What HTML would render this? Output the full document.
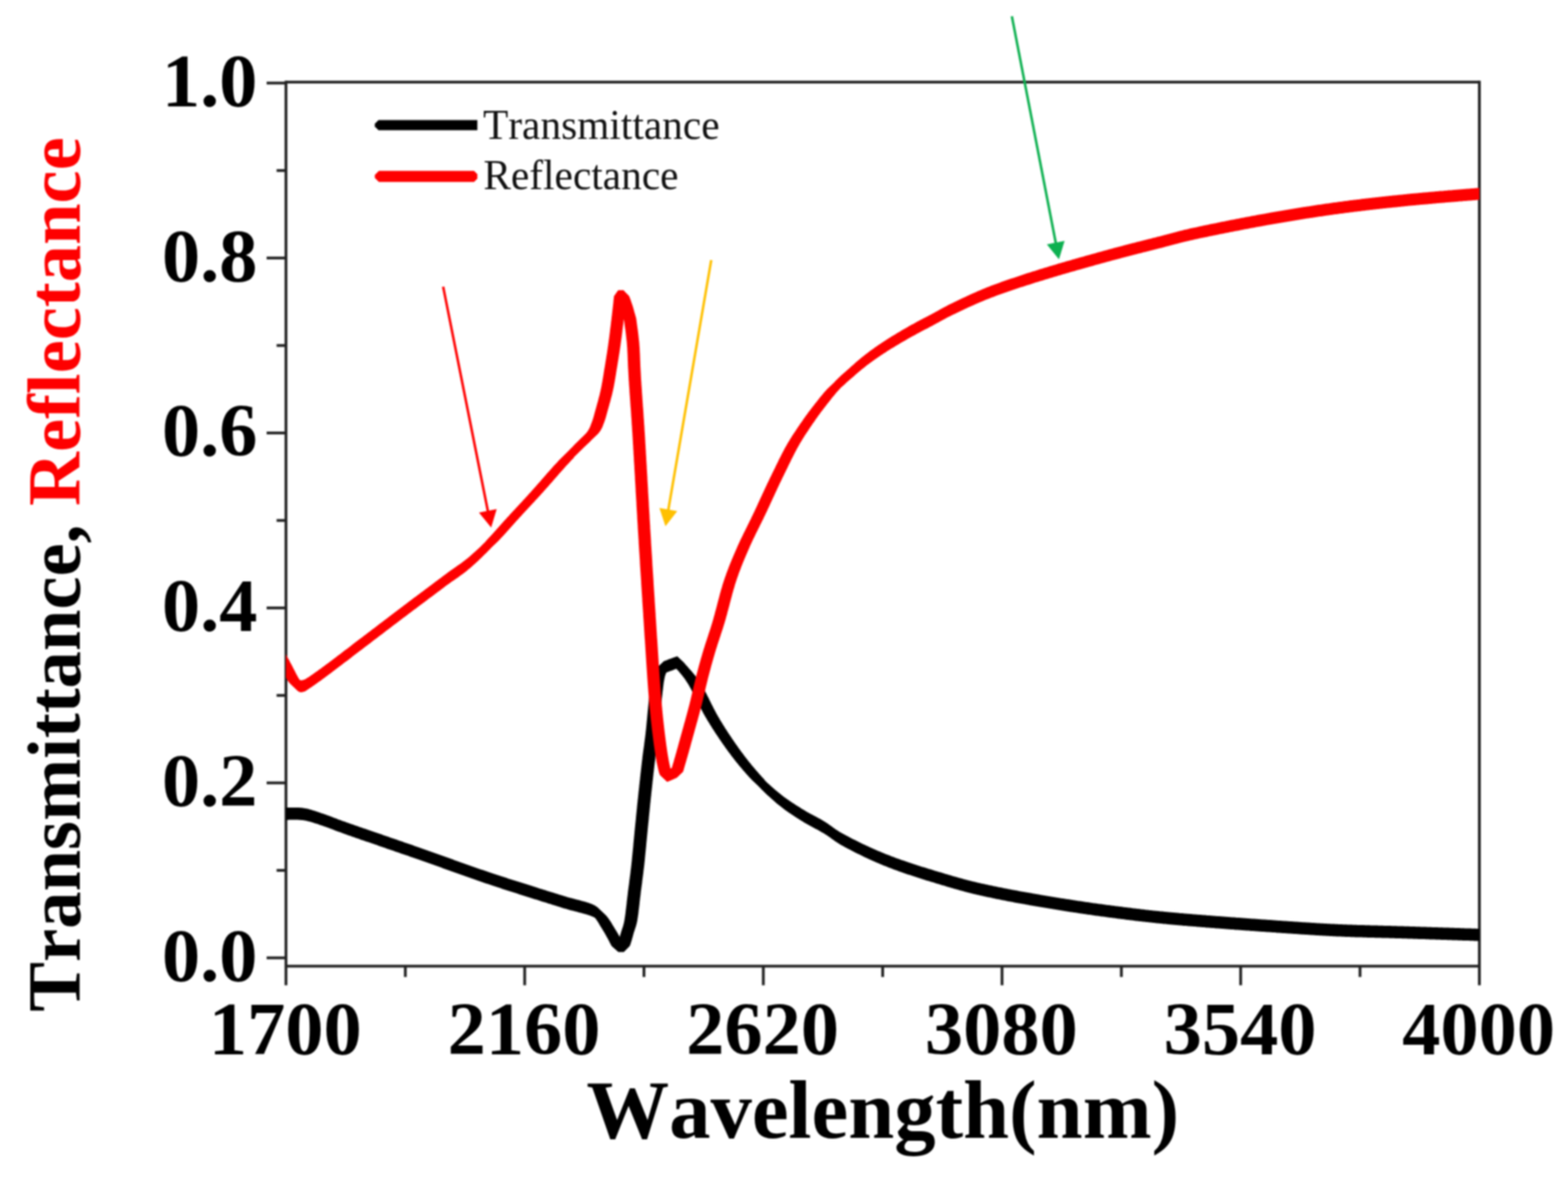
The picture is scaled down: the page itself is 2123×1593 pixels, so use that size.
<!DOCTYPE html>
<html lang="en">
<head>
<meta charset="utf-8">
<title>Transmittance and Reflectance vs Wavelength</title>
<style>
html,body{margin:0;padding:0;background:#fff;}
body{width:2123px;height:1593px;overflow:hidden;}
svg{display:block;filter:blur(0.9px);}
text{font-family:"Liberation Serif","DejaVu Serif",serif;font-kerning:none;}
.b{font-weight:700;}
</style>
</head>
<body>
<svg xmlns="http://www.w3.org/2000/svg" width="2123" height="1593" viewBox="0 0 2123 1593">
<rect width="2123" height="1593" fill="#fff"/>
<defs><clipPath id="plot"><rect x="387.2" y="0" width="1615.8" height="1593"/></clipPath></defs>
<g stroke="#222222" stroke-width="3.8" fill="none" stroke-linecap="butt">
<line x1="387.2" y1="109.2" x2="387.2" y2="1333.5"/>
<line x1="2003.0" y1="109.2" x2="2003.0" y2="1333.5"/>
<line x1="387.2" y1="111.1" x2="2003.0" y2="111.1"/>
<line x1="387.2" y1="1307.7" x2="2003.0" y2="1307.7"/>
<line x1="361.0" y1="1296.4" x2="387.2" y2="1296.4"/>
<line x1="374.5" y1="1178.0" x2="387.2" y2="1178.0"/>
<line x1="361.0" y1="1059.6" x2="387.2" y2="1059.6"/>
<line x1="374.5" y1="941.2" x2="387.2" y2="941.2"/>
<line x1="361.0" y1="822.8" x2="387.2" y2="822.8"/>
<line x1="374.5" y1="704.4" x2="387.2" y2="704.4"/>
<line x1="361.0" y1="586.0" x2="387.2" y2="586.0"/>
<line x1="374.5" y1="467.6" x2="387.2" y2="467.6"/>
<line x1="361.0" y1="349.2" x2="387.2" y2="349.2"/>
<line x1="374.5" y1="230.8" x2="387.2" y2="230.8"/>
<line x1="361.0" y1="112.4" x2="387.2" y2="112.4"/>
<line x1="548.8" y1="1307.7" x2="548.8" y2="1322.3"/>
<line x1="710.4" y1="1307.7" x2="710.4" y2="1333.5"/>
<line x1="871.9" y1="1307.7" x2="871.9" y2="1322.3"/>
<line x1="1033.5" y1="1307.7" x2="1033.5" y2="1333.5"/>
<line x1="1195.1" y1="1307.7" x2="1195.1" y2="1322.3"/>
<line x1="1356.7" y1="1307.7" x2="1356.7" y2="1333.5"/>
<line x1="1518.3" y1="1307.7" x2="1518.3" y2="1322.3"/>
<line x1="1679.8" y1="1307.7" x2="1679.8" y2="1333.5"/>
<line x1="1841.4" y1="1307.7" x2="1841.4" y2="1322.3"/>
</g>
<g clip-path="url(#plot)" stroke="none" fill-rule="nonzero">
<path fill="#000" d="M810.6 1229.4L819.3 1237.7L810.6 1246.0L801.8 1237.7ZM899.0 894.7L907.8 903.0L899.0 911.3L890.2 903.0ZM917.0 888.2L925.8 896.5L917.0 904.8L908.2 896.5ZM1026.6 1047.2L1035.4 1055.5L1026.6 1063.8L1017.9 1055.5ZM2015.2 1257.4L2024.0 1265.7L2015.2 1274.0L2006.5 1265.7ZM2015.2 1257.3L2024.0 1265.6L2015.2 1273.9L2006.5 1265.6ZM380.0 1093.1L380.9 1093.1L382.0 1093.1L383.4 1093.1L385.2 1093.1L387.5 1093.1L388.7 1093.1L390.1 1093.1L391.7 1093.0L393.3 1093.0L395.0 1093.0L396.8 1093.0L398.5 1093.0L400.3 1093.0L402.0 1093.0L403.5 1093.0L405.0 1093.1L406.8 1093.2L408.4 1093.3L409.8 1093.5L411.2 1093.7L412.7 1093.9L414.2 1094.2L416.0 1094.6L418.0 1095.1L419.2 1095.4L420.4 1095.7L421.6 1096.1L422.9 1096.5L424.2 1096.9L425.6 1097.3L427.0 1097.8L428.4 1098.2L429.9 1098.7L431.4 1099.2L433.0 1099.8L434.7 1100.4L436.4 1100.9L438.2 1101.6L440.0 1102.2L441.1 1102.6L442.2 1103.0L443.3 1103.4L444.3 1103.7L445.3 1104.1L446.2 1104.5L447.2 1104.8L448.2 1105.2L449.2 1105.6L450.3 1106.0L451.4 1106.4L452.5 1106.9L453.7 1107.3L455.0 1107.8L456.3 1108.3L457.8 1108.9L459.3 1109.4L461.0 1110.0L462.8 1110.7L464.7 1111.4L466.8 1112.1L469.0 1112.9L471.4 1113.8L474.0 1114.7L475.0 1115.0L476.0 1115.4L477.0 1115.8L478.1 1116.1L479.2 1116.5L480.3 1116.9L481.4 1117.3L482.6 1117.7L483.8 1118.1L485.0 1118.5L486.2 1118.9L487.4 1119.4L488.7 1119.8L490.0 1120.3L491.3 1120.7L492.6 1121.2L493.9 1121.6L495.3 1122.1L496.7 1122.6L498.0 1123.0L499.4 1123.5L500.9 1124.0L502.3 1124.5L503.7 1125.0L505.2 1125.5L506.6 1126.0L508.1 1126.5L509.6 1127.0L511.1 1127.5L512.6 1128.1L514.1 1128.6L515.7 1129.1L517.2 1129.6L518.7 1130.2L520.3 1130.7L521.8 1131.2L523.4 1131.8L524.9 1132.3L526.5 1132.8L528.1 1133.4L529.6 1133.9L531.2 1134.5L532.8 1135.0L534.4 1135.6L535.9 1136.1L537.5 1136.6L539.1 1137.2L540.7 1137.7L542.2 1138.3L543.8 1138.8L545.4 1139.3L546.9 1139.9L548.5 1140.4L550.0 1141.0L551.6 1141.5L553.1 1142.0L554.6 1142.6L556.2 1143.1L557.7 1143.6L559.2 1144.1L560.7 1144.7L562.2 1145.2L563.6 1145.7L565.1 1146.2L566.6 1146.7L568.0 1147.2L569.4 1147.7L570.8 1148.2L572.2 1148.7L573.6 1149.2L575.1 1149.7L576.5 1150.2L577.9 1150.7L579.3 1151.2L580.7 1151.7L582.1 1152.2L583.6 1152.7L585.0 1153.2L586.4 1153.7L587.8 1154.2L589.2 1154.7L590.6 1155.2L592.1 1155.7L593.5 1156.2L594.9 1156.7L596.3 1157.2L597.7 1157.7L599.2 1158.3L600.6 1158.8L602.0 1159.3L603.4 1159.8L604.8 1160.3L606.3 1160.8L607.7 1161.3L609.1 1161.8L610.5 1162.3L611.9 1162.8L613.4 1163.3L614.8 1163.9L616.2 1164.4L617.6 1164.9L619.1 1165.4L620.5 1165.9L621.9 1166.4L623.3 1166.9L624.7 1167.4L626.2 1167.9L627.6 1168.4L629.0 1168.9L630.4 1169.4L631.8 1169.9L633.3 1170.4L634.7 1170.9L636.1 1171.4L637.5 1171.9L638.9 1172.4L640.4 1172.9L641.8 1173.4L643.2 1173.9L644.6 1174.4L646.0 1174.9L647.4 1175.4L648.9 1175.9L650.3 1176.4L651.7 1176.9L653.1 1177.3L654.5 1177.8L655.9 1178.3L657.4 1178.8L658.8 1179.3L660.2 1179.7L661.6 1180.2L663.0 1180.7L664.5 1181.2L665.9 1181.7L667.4 1182.2L668.9 1182.7L670.5 1183.2L672.0 1183.7L673.5 1184.2L675.1 1184.7L676.7 1185.2L678.2 1185.7L679.8 1186.3L681.4 1186.8L683.0 1187.3L684.6 1187.8L686.2 1188.3L687.8 1188.9L689.4 1189.4L691.1 1189.9L692.7 1190.4L694.3 1191.0L696.0 1191.5L697.6 1192.0L699.2 1192.5L700.8 1193.0L702.5 1193.6L704.1 1194.1L705.7 1194.6L707.3 1195.1L708.9 1195.6L710.5 1196.1L712.1 1196.6L713.7 1197.1L715.3 1197.6L716.9 1198.1L718.4 1198.6L720.0 1199.1L721.5 1199.6L723.0 1200.1L724.6 1200.6L726.1 1201.0L727.6 1201.5L729.0 1202.0L730.5 1202.4L731.9 1202.9L733.3 1203.3L734.8 1203.8L736.1 1204.2L737.5 1204.6L738.9 1205.0L740.2 1205.5L741.5 1205.9L742.8 1206.3L744.0 1206.7L745.3 1207.0L746.5 1207.4L747.6 1207.8L748.8 1208.1L749.9 1208.5L751.0 1208.8L752.1 1209.2L753.1 1209.5L754.2 1209.8L755.1 1210.1L756.1 1210.4L757.0 1210.7L760.6 1211.8L763.7 1212.8L766.2 1213.5L768.4 1214.2L770.1 1214.7L771.6 1215.1L772.8 1215.4L773.7 1215.6L774.6 1215.8L775.4 1216.0L776.1 1216.2L776.9 1216.4L777.7 1216.6L778.8 1216.9L780.0 1217.2L781.7 1217.7L783.3 1218.1L785.0 1218.6L786.6 1219.0L788.1 1219.4L789.6 1219.8L791.1 1220.2L792.5 1220.6L793.9 1221.0L795.2 1221.4L796.5 1221.8L797.7 1222.2L799.6 1222.9L801.3 1223.6L802.8 1224.2L804.2 1224.9L805.5 1225.6L806.8 1226.4L808.0 1227.2L809.4 1228.3L810.6 1229.4L810.6 1246.0L809.4 1244.9L808.0 1243.8L806.8 1243.0L805.5 1242.2L804.2 1241.5L802.8 1240.8L801.3 1240.2L799.6 1239.5L797.7 1238.8L796.5 1238.4L795.2 1238.0L793.9 1237.6L792.5 1237.2L791.1 1236.8L789.6 1236.4L788.1 1236.0L786.6 1235.6L785.0 1235.2L783.3 1234.7L781.7 1234.3L780.0 1233.8L778.8 1233.5L777.7 1233.2L776.9 1233.0L776.1 1232.8L775.4 1232.6L774.6 1232.4L773.7 1232.2L772.8 1232.0L771.6 1231.7L770.1 1231.3L768.4 1230.8L766.2 1230.1L763.7 1229.4L760.6 1228.4L757.0 1227.3L756.1 1227.0L755.1 1226.7L754.2 1226.4L753.1 1226.1L752.1 1225.8L751.0 1225.4L749.9 1225.1L748.8 1224.7L747.6 1224.4L746.5 1224.0L745.3 1223.6L744.0 1223.3L742.8 1222.9L741.5 1222.5L740.2 1222.1L738.9 1221.6L737.5 1221.2L736.1 1220.8L734.8 1220.4L733.3 1219.9L731.9 1219.5L730.5 1219.0L729.0 1218.6L727.6 1218.1L726.1 1217.6L724.6 1217.2L723.0 1216.7L721.5 1216.2L720.0 1215.7L718.4 1215.2L716.9 1214.7L715.3 1214.2L713.7 1213.7L712.1 1213.2L710.5 1212.7L708.9 1212.2L707.3 1211.7L705.7 1211.2L704.1 1210.7L702.5 1210.2L700.8 1209.6L699.2 1209.1L697.6 1208.6L696.0 1208.1L694.3 1207.6L692.7 1207.0L691.1 1206.5L689.4 1206.0L687.8 1205.5L686.2 1204.9L684.6 1204.4L683.0 1203.9L681.4 1203.4L679.8 1202.9L678.2 1202.3L676.7 1201.8L675.1 1201.3L673.5 1200.8L672.0 1200.3L670.5 1199.8L668.9 1199.3L667.4 1198.8L665.9 1198.3L664.5 1197.8L663.0 1197.3L661.6 1196.8L660.2 1196.3L658.8 1195.9L657.4 1195.4L655.9 1194.9L654.5 1194.4L653.1 1193.9L651.7 1193.5L650.3 1193.0L648.9 1192.5L647.4 1192.0L646.0 1191.5L644.6 1191.0L643.2 1190.5L641.8 1190.0L640.4 1189.5L638.9 1189.0L637.5 1188.5L636.1 1188.0L634.7 1187.5L633.3 1187.0L631.8 1186.5L630.4 1186.0L629.0 1185.5L627.6 1185.0L626.2 1184.5L624.7 1184.0L623.3 1183.5L621.9 1183.0L620.5 1182.5L619.1 1182.0L617.6 1181.5L616.2 1181.0L614.8 1180.5L613.4 1179.9L611.9 1179.4L610.5 1178.9L609.1 1178.4L607.7 1177.9L606.3 1177.4L604.8 1176.9L603.4 1176.4L602.0 1175.9L600.6 1175.4L599.2 1174.9L597.7 1174.3L596.3 1173.8L594.9 1173.3L593.5 1172.8L592.1 1172.3L590.6 1171.8L589.2 1171.3L587.8 1170.8L586.4 1170.3L585.0 1169.8L583.6 1169.3L582.1 1168.8L580.7 1168.3L579.3 1167.8L577.9 1167.3L576.5 1166.8L575.1 1166.3L573.6 1165.8L572.2 1165.3L570.8 1164.8L569.4 1164.3L568.0 1163.8L566.6 1163.3L565.1 1162.8L563.6 1162.3L562.2 1161.8L560.7 1161.3L559.2 1160.7L557.7 1160.2L556.2 1159.7L554.6 1159.2L553.1 1158.6L551.6 1158.1L550.0 1157.6L548.5 1157.0L546.9 1156.5L545.4 1155.9L543.8 1155.4L542.2 1154.9L540.7 1154.3L539.1 1153.8L537.5 1153.2L535.9 1152.7L534.4 1152.2L532.8 1151.6L531.2 1151.1L529.6 1150.5L528.1 1150.0L526.5 1149.4L524.9 1148.9L523.4 1148.4L521.8 1147.8L520.3 1147.3L518.7 1146.8L517.2 1146.2L515.7 1145.7L514.1 1145.2L512.6 1144.7L511.1 1144.1L509.6 1143.6L508.1 1143.1L506.6 1142.6L505.2 1142.1L503.7 1141.6L502.3 1141.1L500.9 1140.6L499.4 1140.1L498.0 1139.6L496.7 1139.2L495.3 1138.7L493.9 1138.2L492.6 1137.8L491.3 1137.3L490.0 1136.9L488.7 1136.4L487.4 1136.0L486.2 1135.5L485.0 1135.1L483.8 1134.7L482.6 1134.3L481.4 1133.9L480.3 1133.5L479.2 1133.1L478.1 1132.7L477.0 1132.4L476.0 1132.0L475.0 1131.6L474.0 1131.3L471.4 1130.4L469.0 1129.5L466.8 1128.7L464.7 1128.0L462.8 1127.3L461.0 1126.6L459.3 1126.0L457.8 1125.5L456.3 1124.9L455.0 1124.4L453.7 1123.9L452.5 1123.5L451.4 1123.0L450.3 1122.6L449.2 1122.2L448.2 1121.8L447.2 1121.4L446.2 1121.1L445.3 1120.7L444.3 1120.3L443.3 1120.0L442.2 1119.6L441.1 1119.2L440.0 1118.8L438.2 1118.2L436.4 1117.5L434.7 1117.0L433.0 1116.4L431.4 1115.8L429.9 1115.3L428.4 1114.8L427.0 1114.4L425.6 1113.9L424.2 1113.5L422.9 1113.1L421.6 1112.7L420.4 1112.3L419.2 1112.0L418.0 1111.7L416.0 1111.2L414.2 1110.8L412.7 1110.5L411.2 1110.3L409.8 1110.1L408.4 1109.9L406.8 1109.8L405.0 1109.7L403.5 1109.6L402.0 1109.6L400.3 1109.6L398.5 1109.6L396.8 1109.6L395.0 1109.6L393.3 1109.6L391.7 1109.6L390.1 1109.7L388.7 1109.7L387.5 1109.7L385.2 1109.7L383.4 1109.7L382.0 1109.7L380.9 1109.7L380.0 1109.7ZM819.3 1237.7L820.5 1238.9L821.5 1240.1L822.6 1241.5L823.8 1243.0L824.6 1244.2L825.5 1245.4L826.3 1246.8L827.2 1248.1L828.1 1249.5L828.9 1251.0L829.8 1252.5L830.8 1254.0L831.5 1255.2L832.2 1256.4L833.0 1257.6L833.7 1258.9L834.5 1260.1L835.3 1261.4L836.1 1262.8L836.9 1264.3L837.8 1265.8L838.8 1267.5L839.4 1268.7L840.2 1270.1L840.9 1271.6L841.8 1273.1L842.6 1274.7L843.5 1276.4L844.3 1278.0L845.2 1279.7L845.5 1281.3L845.3 1282.8L845.2 1284.2L845.0 1285.5L844.9 1286.7L844.8 1287.7L844.7 1288.5L837.3 1288.5L836.4 1287.7L835.2 1286.7L833.9 1285.5L832.4 1284.2L830.7 1282.8L829.0 1281.3L827.7 1279.7L826.8 1278.0L826.0 1276.4L825.1 1274.7L824.3 1273.1L823.4 1271.6L822.7 1270.1L821.9 1268.7L821.2 1267.5L820.3 1265.8L819.4 1264.3L818.6 1262.8L817.8 1261.4L817.0 1260.1L816.2 1258.9L815.5 1257.6L814.7 1256.4L814.0 1255.2L813.2 1254.0L812.3 1252.5L811.4 1251.0L810.6 1249.5L809.7 1248.1L808.8 1246.8L808.0 1245.4L807.1 1244.2L806.2 1243.0L805.1 1241.5L804.0 1240.1L803.0 1238.9L801.8 1237.7ZM837.3 1288.5L837.1 1287.5L836.7 1286.3L836.4 1284.8L835.9 1283.1L835.4 1281.3L835.6 1279.5L836.2 1277.7L836.8 1276.0L837.2 1274.5L837.7 1273.0L838.1 1271.5L838.5 1270.0L839.0 1268.5L839.4 1266.9L839.8 1265.3L840.3 1263.7L840.8 1262.0L841.2 1260.7L841.6 1259.4L842.0 1258.2L842.4 1257.0L842.8 1255.8L843.3 1254.5L843.7 1253.1L844.1 1251.5L844.6 1249.7L845.0 1247.7L845.5 1245.4L845.6 1244.3L845.8 1243.1L846.0 1241.9L846.2 1240.6L846.4 1239.2L846.6 1237.8L846.8 1236.4L847.0 1234.9L847.1 1233.4L847.3 1231.8L847.5 1230.3L847.7 1228.7L847.9 1227.1L848.1 1225.4L848.3 1223.8L848.5 1222.1L848.6 1220.5L848.8 1218.9L849.0 1217.2L849.2 1215.6L849.4 1214.0L849.6 1212.4L849.8 1210.8L850.0 1209.2L850.1 1207.7L850.3 1206.2L850.5 1204.7L850.7 1203.2L850.9 1201.7L851.1 1200.3L851.3 1198.8L851.5 1197.4L851.7 1195.9L851.9 1194.4L852.0 1193.0L852.2 1191.5L852.4 1190.0L852.6 1188.6L852.8 1187.1L853.0 1185.6L853.2 1184.1L853.4 1182.6L853.6 1181.1L853.7 1179.6L853.9 1178.0L854.1 1176.4L854.3 1174.9L854.5 1173.3L854.7 1171.6L854.9 1170.0L855.0 1168.6L855.2 1167.2L855.3 1165.8L855.5 1164.4L855.6 1162.9L855.7 1161.5L855.9 1160.0L856.0 1158.5L856.2 1157.0L856.3 1155.5L856.5 1154.0L856.6 1152.5L856.8 1151.0L856.9 1149.5L857.1 1148.0L857.2 1146.4L857.4 1144.9L857.5 1143.4L857.6 1141.8L857.8 1140.3L857.9 1138.7L858.1 1137.2L858.2 1135.7L858.4 1134.1L858.5 1132.6L858.7 1131.1L858.8 1129.5L859.0 1128.0L859.1 1126.5L859.2 1125.0L859.4 1123.5L859.5 1122.0L859.7 1120.5L859.8 1119.0L860.0 1117.6L860.1 1116.1L860.3 1114.6L860.4 1113.1L860.6 1111.7L860.7 1110.2L860.9 1108.7L861.0 1107.2L861.1 1105.8L861.3 1104.3L861.4 1102.8L861.6 1101.3L861.7 1099.8L861.9 1098.4L862.0 1096.9L862.2 1095.4L862.3 1093.9L862.5 1092.4L862.6 1090.8L862.8 1089.3L862.9 1087.8L863.1 1086.3L863.3 1084.7L863.4 1083.1L863.6 1081.6L863.8 1080.0L863.9 1078.6L864.1 1077.1L864.2 1075.6L864.4 1074.1L864.5 1072.6L864.7 1071.1L864.9 1069.5L865.0 1068.0L865.2 1066.4L865.4 1064.9L865.5 1063.3L865.7 1061.7L865.9 1060.2L866.0 1058.6L866.2 1057.0L866.4 1055.4L866.6 1053.9L866.7 1052.3L866.9 1050.7L867.1 1049.2L867.2 1047.6L867.4 1046.1L867.6 1044.5L867.8 1043.0L867.9 1041.5L868.1 1040.0L868.3 1038.5L868.4 1037.0L868.6 1035.6L868.8 1034.2L868.9 1032.8L869.1 1031.4L869.2 1030.0L869.5 1028.3L869.7 1026.7L869.8 1025.0L870.0 1023.5L870.2 1021.9L870.4 1020.4L870.6 1019.0L870.8 1017.5L871.0 1016.1L871.2 1014.6L871.4 1013.2L871.6 1011.8L871.8 1010.4L872.0 1009.0L872.2 1007.6L872.3 1006.2L872.5 1004.7L872.7 1003.3L872.9 1001.8L873.1 1000.3L873.3 998.8L873.5 997.3L873.7 995.7L873.9 994.1L874.1 992.4L874.2 990.7L874.4 989.3L874.6 987.9L874.7 986.4L874.9 984.9L875.0 983.4L875.2 981.8L875.3 980.3L875.5 978.7L875.6 977.0L875.8 975.4L876.0 973.7L876.1 972.1L876.3 970.4L876.4 968.7L876.6 967.0L876.7 965.4L876.9 963.7L877.0 962.0L877.2 960.4L877.4 958.7L877.5 957.1L877.7 955.5L877.8 953.9L878.0 952.4L878.1 950.8L878.3 949.3L878.4 947.9L878.5 946.4L878.7 945.1L878.8 943.7L879.0 942.4L879.1 941.2L879.2 940.0L879.5 937.8L879.7 935.7L880.0 933.7L880.2 931.9L880.4 930.1L880.6 928.4L880.8 926.8L881.0 925.3L881.2 923.8L881.4 922.4L881.7 921.1L881.9 919.8L882.1 918.6L882.4 917.4L882.6 916.2L882.9 915.1L883.2 914.0L884.0 911.8L885.0 909.9L886.0 908.3L887.0 906.9L888.0 905.7L888.9 904.6L889.7 903.7L890.2 903.0L907.8 903.0L907.2 903.7L906.4 904.6L905.5 905.7L904.5 906.9L903.5 908.3L902.5 909.9L901.5 911.8L900.8 914.0L900.4 915.1L900.1 916.2L899.9 917.4L899.6 918.6L899.4 919.8L899.2 921.1L898.9 922.4L898.7 923.8L898.5 925.3L898.3 926.8L898.1 928.4L897.9 930.1L897.7 931.9L897.5 933.7L897.2 935.7L897.0 937.8L896.8 940.0L896.6 941.2L896.5 942.4L896.3 943.7L896.2 945.1L896.0 946.4L895.9 947.9L895.8 949.3L895.6 950.8L895.5 952.4L895.3 953.9L895.2 955.5L895.0 957.1L894.9 958.7L894.7 960.4L894.5 962.0L894.4 963.7L894.2 965.4L894.1 967.0L893.9 968.7L893.8 970.4L893.6 972.1L893.5 973.7L893.3 975.4L893.1 977.0L893.0 978.7L892.8 980.3L892.7 981.8L892.5 983.4L892.4 984.9L892.2 986.4L892.1 987.9L891.9 989.3L891.8 990.7L891.6 992.4L891.4 994.1L891.2 995.7L891.0 997.3L890.8 998.8L890.6 1000.3L890.4 1001.8L890.2 1003.3L890.0 1004.7L889.8 1006.2L889.7 1007.6L889.5 1009.0L889.3 1010.4L889.1 1011.8L888.9 1013.2L888.7 1014.6L888.5 1016.1L888.3 1017.5L888.1 1019.0L887.9 1020.4L887.7 1021.9L887.5 1023.5L887.3 1025.0L887.2 1026.7L887.0 1028.3L886.8 1030.0L886.6 1031.4L886.4 1032.8L886.3 1034.2L886.1 1035.6L885.9 1037.0L885.8 1038.5L885.6 1040.0L885.4 1041.5L885.3 1043.0L885.1 1044.5L884.9 1046.1L884.7 1047.6L884.6 1049.2L884.4 1050.7L884.2 1052.3L884.1 1053.9L883.9 1055.4L883.7 1057.0L883.5 1058.6L883.4 1060.2L883.2 1061.7L883.0 1063.3L882.9 1064.9L882.7 1066.4L882.5 1068.0L882.4 1069.5L882.2 1071.1L882.0 1072.6L881.9 1074.1L881.7 1075.6L881.6 1077.1L881.4 1078.6L881.2 1080.0L881.1 1081.6L880.9 1083.1L880.8 1084.7L880.6 1086.3L880.4 1087.8L880.3 1089.3L880.1 1090.8L880.0 1092.4L879.8 1093.9L879.7 1095.4L879.5 1096.9L879.4 1098.4L879.2 1099.8L879.1 1101.3L878.9 1102.8L878.8 1104.3L878.6 1105.8L878.5 1107.2L878.4 1108.7L878.2 1110.2L878.1 1111.7L877.9 1113.1L877.8 1114.6L877.6 1116.1L877.5 1117.6L877.3 1119.0L877.2 1120.5L877.0 1122.0L876.9 1123.5L876.8 1125.0L876.6 1126.5L876.5 1128.0L876.3 1129.5L876.2 1131.1L876.0 1132.6L875.9 1134.1L875.7 1135.7L875.6 1137.2L875.4 1138.7L875.3 1140.3L875.1 1141.8L875.0 1143.4L874.9 1144.9L874.7 1146.4L874.6 1148.0L874.4 1149.5L874.3 1151.0L874.1 1152.5L874.0 1154.0L873.8 1155.5L873.7 1157.0L873.5 1158.5L873.4 1160.0L873.2 1161.5L873.1 1162.9L873.0 1164.4L872.8 1165.8L872.7 1167.2L872.5 1168.6L872.4 1170.0L872.2 1171.6L872.0 1173.3L871.8 1174.9L871.6 1176.4L871.4 1178.0L871.2 1179.6L871.1 1181.1L870.9 1182.6L870.7 1184.1L870.5 1185.6L870.3 1187.1L870.1 1188.6L869.9 1190.0L869.7 1191.5L869.5 1193.0L869.4 1194.4L869.2 1195.9L869.0 1197.4L868.8 1198.8L868.6 1200.3L868.4 1201.7L868.2 1203.2L868.0 1204.7L867.8 1206.2L867.6 1207.7L867.5 1209.2L867.3 1210.8L867.1 1212.4L866.9 1214.0L866.7 1215.6L866.5 1217.2L866.3 1218.9L866.1 1220.5L866.0 1222.1L865.8 1223.8L865.6 1225.4L865.4 1227.1L865.2 1228.7L865.0 1230.3L864.8 1231.8L864.6 1233.4L864.5 1234.9L864.3 1236.4L864.1 1237.8L863.9 1239.2L863.7 1240.6L863.5 1241.9L863.3 1243.1L863.1 1244.3L863.0 1245.4L862.5 1247.7L862.1 1249.7L861.6 1251.5L861.2 1253.1L860.8 1254.5L860.3 1255.8L859.9 1257.0L859.5 1258.2L859.1 1259.4L858.7 1260.7L858.2 1262.0L857.8 1263.7L857.3 1265.3L856.9 1266.9L856.5 1268.5L856.0 1270.0L855.6 1271.5L855.2 1273.0L854.7 1274.5L854.2 1276.0L853.7 1277.7L853.1 1279.5L851.9 1281.3L850.1 1283.1L848.4 1284.8L846.9 1286.3L845.6 1287.5L844.7 1288.5ZM899.0 894.7L899.9 894.4L901.2 893.9L902.7 893.4L904.3 892.8L906.1 892.1L908.0 891.5L909.9 890.8L911.7 890.1L913.3 889.5L914.8 889.0L916.1 888.5L917.0 888.2L917.0 904.8L916.1 905.1L914.8 905.6L913.3 906.1L911.7 906.7L909.9 907.4L908.0 908.0L906.1 908.7L904.3 909.4L902.7 910.0L901.2 910.5L899.9 911.0L899.0 911.3ZM925.8 896.5L926.3 897.1L926.9 897.9L927.6 898.6L928.3 899.5L929.1 900.4L930.0 901.3L930.9 902.3L931.8 903.4L932.8 904.5L933.8 905.7L934.9 906.9L936.0 908.1L937.1 909.4L938.2 910.8L939.4 912.2L940.5 913.6L941.7 915.1L942.8 916.6L944.0 918.1L945.1 919.6L946.2 921.2L947.3 922.9L948.4 924.5L949.0 925.6L949.7 926.7L950.4 927.8L951.0 929.0L951.7 930.2L952.4 931.4L953.1 932.6L953.7 933.9L954.4 935.2L955.1 936.5L955.8 937.8L956.5 939.1L957.2 940.5L957.9 941.9L958.6 943.3L959.3 944.6L960.0 946.1L960.7 947.5L961.4 948.9L962.1 950.3L962.8 951.7L963.5 953.2L964.2 954.6L965.0 956.0L965.7 957.5L966.4 958.9L967.2 960.3L967.9 961.7L968.6 963.1L969.4 964.5L970.1 965.9L970.9 967.3L971.6 968.6L972.4 970.0L973.2 971.3L974.0 972.6L974.7 973.9L975.5 975.2L976.3 976.5L977.1 977.8L977.9 979.1L978.7 980.4L979.5 981.7L980.4 983.0L981.2 984.4L982.0 985.7L982.8 987.0L983.7 988.3L984.5 989.6L985.4 990.9L986.2 992.2L987.1 993.5L987.9 994.8L988.8 996.0L989.6 997.3L990.5 998.6L991.3 999.9L992.2 1001.1L993.1 1002.4L993.9 1003.6L994.8 1004.9L995.6 1006.1L996.5 1007.4L997.4 1008.6L998.2 1009.8L999.1 1011.0L999.9 1012.2L1000.8 1013.4L1001.6 1014.5L1002.5 1015.7L1003.3 1016.9L1004.1 1018.0L1005.1 1019.3L1006.1 1020.6L1007.1 1021.9L1008.0 1023.2L1009.0 1024.5L1010.0 1025.7L1011.0 1027.0L1011.9 1028.2L1012.9 1029.5L1013.9 1030.7L1014.8 1031.9L1015.8 1033.1L1016.8 1034.3L1017.7 1035.5L1018.7 1036.7L1019.7 1037.8L1020.7 1039.0L1021.6 1040.1L1022.6 1041.3L1023.6 1042.4L1024.5 1043.5L1025.5 1044.6L1026.5 1045.7L1027.4 1046.8L1028.4 1047.9L1029.4 1049.0L1030.4 1050.1L1031.3 1051.2L1032.3 1052.2L1033.3 1053.3L1034.2 1054.3L1035.4 1055.5L1017.9 1055.5L1016.8 1054.3L1015.8 1053.3L1014.8 1052.2L1013.8 1051.2L1012.9 1050.1L1011.9 1049.0L1010.9 1047.9L1009.9 1046.8L1009.0 1045.7L1008.0 1044.6L1007.0 1043.5L1006.1 1042.4L1005.1 1041.3L1004.1 1040.1L1003.2 1039.0L1002.2 1037.8L1001.2 1036.7L1000.2 1035.5L999.3 1034.3L998.3 1033.1L997.3 1031.9L996.4 1030.7L995.4 1029.5L994.4 1028.2L993.5 1027.0L992.5 1025.7L991.5 1024.5L990.5 1023.2L989.6 1021.9L988.6 1020.6L987.6 1019.3L986.6 1018.0L985.8 1016.9L985.0 1015.7L984.1 1014.5L983.3 1013.4L982.4 1012.2L981.6 1011.0L980.7 1009.8L979.9 1008.6L979.0 1007.4L978.1 1006.1L977.3 1004.9L976.4 1003.6L975.6 1002.4L974.7 1001.1L973.8 999.9L973.0 998.6L972.1 997.3L971.3 996.0L970.4 994.8L969.6 993.5L968.7 992.2L967.9 990.9L967.0 989.6L966.2 988.3L965.3 987.0L964.5 985.7L963.7 984.4L962.9 983.0L962.0 981.7L961.2 980.4L960.4 979.1L959.6 977.8L958.8 976.5L958.0 975.2L957.2 973.9L956.5 972.6L955.7 971.3L954.9 970.0L954.1 968.6L953.4 967.3L952.6 965.9L951.9 964.5L951.1 963.1L950.4 961.7L949.7 960.3L948.9 958.9L948.2 957.5L947.5 956.0L946.7 954.6L946.0 953.2L945.3 951.7L944.6 950.3L943.9 948.9L943.2 947.5L942.5 946.1L941.8 944.6L941.1 943.3L940.4 941.9L939.7 940.5L939.0 939.1L938.3 937.8L937.6 936.5L936.9 935.2L936.2 933.9L935.6 932.6L934.9 931.4L934.2 930.2L933.5 929.0L932.9 927.8L932.2 926.7L931.5 925.6L930.9 924.5L929.8 922.9L928.7 921.2L927.6 919.6L926.5 918.1L925.3 916.6L924.2 915.1L923.0 913.6L921.9 912.2L920.7 910.8L919.6 909.4L918.5 908.1L917.4 906.9L916.3 905.7L915.3 904.5L914.3 903.4L913.4 902.3L912.5 901.3L911.6 900.4L910.8 899.5L910.1 898.6L909.4 897.9L908.8 897.1L908.2 896.5ZM1026.6 1047.2L1027.7 1048.4L1028.9 1049.5L1030.0 1050.7L1031.1 1051.8L1032.2 1052.9L1033.3 1054.0L1034.4 1055.1L1035.6 1056.2L1036.7 1057.3L1037.8 1058.4L1038.9 1059.4L1040.0 1060.5L1041.2 1061.5L1042.3 1062.5L1043.4 1063.5L1044.5 1064.5L1045.6 1065.5L1046.8 1066.5L1047.9 1067.5L1049.0 1068.4L1050.1 1069.4L1051.2 1070.3L1052.3 1071.3L1053.5 1072.2L1054.6 1073.1L1055.7 1074.0L1057.0 1075.0L1058.2 1076.0L1059.5 1077.0L1060.7 1077.9L1062.0 1078.9L1063.2 1079.8L1064.5 1080.7L1065.7 1081.6L1067.0 1082.5L1068.2 1083.3L1069.5 1084.2L1070.8 1085.0L1072.0 1085.9L1073.3 1086.7L1074.5 1087.5L1075.8 1088.3L1077.0 1089.2L1078.3 1090.0L1079.5 1090.8L1080.8 1091.5L1082.0 1092.3L1083.3 1093.1L1084.5 1093.9L1085.8 1094.7L1087.1 1095.5L1088.4 1096.3L1089.8 1097.1L1091.1 1097.9L1092.5 1098.7L1093.8 1099.4L1095.2 1100.2L1096.5 1100.9L1097.9 1101.7L1099.3 1102.4L1100.6 1103.1L1102.0 1103.9L1103.3 1104.6L1104.6 1105.3L1106.0 1106.0L1107.3 1106.7L1108.6 1107.4L1109.8 1108.1L1111.1 1108.8L1112.4 1109.6L1113.6 1110.3L1114.8 1111.0L1116.0 1111.7L1117.4 1112.6L1118.7 1113.4L1120.0 1114.2L1121.2 1115.1L1122.4 1115.9L1123.5 1116.7L1124.6 1117.5L1125.7 1118.3L1126.8 1119.1L1127.9 1119.9L1129.1 1120.7L1130.2 1121.6L1131.4 1122.4L1132.7 1123.2L1134.0 1124.1L1135.4 1125.0L1136.8 1125.9L1138.4 1126.8L1140.0 1127.7L1141.1 1128.3L1142.3 1129.0L1143.5 1129.6L1144.7 1130.3L1146.0 1131.0L1147.2 1131.6L1148.5 1132.3L1149.9 1133.0L1151.2 1133.7L1152.6 1134.5L1154.0 1135.2L1155.4 1135.9L1156.8 1136.6L1158.3 1137.3L1159.7 1138.1L1161.2 1138.8L1162.6 1139.5L1164.1 1140.2L1165.6 1140.9L1167.1 1141.7L1168.5 1142.4L1170.0 1143.1L1171.5 1143.8L1172.9 1144.4L1174.4 1145.1L1175.8 1145.8L1177.2 1146.4L1178.6 1147.1L1180.0 1147.7L1181.4 1148.3L1182.8 1149.0L1184.2 1149.6L1185.6 1150.2L1187.0 1150.8L1188.4 1151.4L1189.8 1152.0L1191.1 1152.6L1192.5 1153.1L1193.9 1153.7L1195.2 1154.3L1196.6 1154.8L1198.0 1155.4L1199.4 1156.0L1200.8 1156.5L1202.2 1157.1L1203.6 1157.6L1205.0 1158.1L1206.4 1158.7L1207.8 1159.2L1209.3 1159.8L1210.8 1160.3L1212.3 1160.9L1213.8 1161.4L1215.3 1162.0L1216.8 1162.6L1218.4 1163.1L1220.0 1163.7L1221.3 1164.2L1222.7 1164.6L1224.1 1165.1L1225.5 1165.6L1226.9 1166.1L1228.3 1166.6L1229.7 1167.1L1231.2 1167.5L1232.7 1168.0L1234.2 1168.5L1235.6 1169.0L1237.2 1169.5L1238.7 1170.0L1240.2 1170.5L1241.7 1170.9L1243.2 1171.4L1244.8 1171.9L1246.3 1172.4L1247.8 1172.9L1249.3 1173.4L1250.9 1173.8L1252.4 1174.3L1253.9 1174.8L1255.4 1175.3L1256.9 1175.7L1258.4 1176.2L1259.9 1176.6L1261.4 1177.1L1262.9 1177.5L1264.3 1178.0L1265.8 1178.4L1267.2 1178.9L1268.6 1179.3L1270.0 1179.7L1271.6 1180.2L1273.1 1180.6L1274.6 1181.1L1276.2 1181.6L1277.7 1182.0L1279.2 1182.5L1280.6 1182.9L1282.1 1183.3L1283.6 1183.8L1285.0 1184.2L1286.5 1184.6L1287.9 1185.1L1289.4 1185.5L1290.8 1185.9L1292.2 1186.3L1293.7 1186.7L1295.1 1187.1L1296.5 1187.5L1298.0 1187.9L1299.4 1188.3L1300.8 1188.7L1302.3 1189.1L1303.7 1189.5L1305.2 1189.9L1306.6 1190.3L1308.1 1190.7L1309.5 1191.1L1311.0 1191.4L1312.5 1191.8L1314.0 1192.2L1315.5 1192.6L1316.9 1192.9L1318.4 1193.3L1319.8 1193.6L1321.3 1194.0L1322.7 1194.3L1324.2 1194.7L1325.7 1195.0L1327.1 1195.3L1328.6 1195.7L1330.1 1196.0L1331.6 1196.3L1333.0 1196.6L1334.5 1197.0L1336.0 1197.3L1337.5 1197.6L1339.0 1197.9L1340.5 1198.2L1342.0 1198.5L1343.4 1198.8L1344.9 1199.2L1346.4 1199.5L1347.9 1199.8L1349.4 1200.1L1350.9 1200.4L1352.4 1200.7L1354.0 1201.0L1355.5 1201.3L1357.0 1201.6L1358.5 1201.9L1360.0 1202.2L1361.5 1202.5L1362.9 1202.8L1364.4 1203.1L1365.9 1203.4L1367.4 1203.6L1368.9 1203.9L1370.4 1204.2L1371.9 1204.5L1373.4 1204.8L1374.9 1205.1L1376.4 1205.3L1377.9 1205.6L1379.4 1205.9L1380.9 1206.2L1382.4 1206.4L1383.9 1206.7L1385.4 1207.0L1387.0 1207.2L1388.5 1207.5L1390.0 1207.8L1391.5 1208.0L1393.0 1208.3L1394.5 1208.6L1396.0 1208.8L1397.5 1209.1L1399.0 1209.4L1400.5 1209.6L1402.0 1209.9L1403.5 1210.1L1405.0 1210.4L1406.5 1210.6L1408.0 1210.9L1409.5 1211.2L1411.1 1211.4L1412.6 1211.7L1414.1 1211.9L1415.6 1212.2L1417.1 1212.5L1418.7 1212.7L1420.2 1213.0L1421.7 1213.2L1423.2 1213.5L1424.7 1213.7L1426.2 1214.0L1427.7 1214.2L1429.2 1214.5L1430.7 1214.7L1432.3 1214.9L1433.8 1215.2L1435.3 1215.4L1436.8 1215.7L1438.3 1215.9L1439.8 1216.1L1441.3 1216.4L1442.8 1216.6L1444.3 1216.9L1445.9 1217.1L1447.4 1217.3L1448.9 1217.6L1450.4 1217.8L1451.9 1218.0L1453.5 1218.3L1455.0 1218.5L1456.5 1218.7L1458.0 1218.9L1459.4 1219.2L1460.9 1219.4L1462.4 1219.6L1463.8 1219.8L1465.3 1220.0L1466.7 1220.3L1468.2 1220.5L1469.6 1220.7L1471.1 1220.9L1472.5 1221.1L1474.0 1221.3L1475.4 1221.5L1476.9 1221.7L1478.4 1221.9L1479.8 1222.2L1481.3 1222.4L1482.8 1222.6L1484.3 1222.8L1485.8 1223.0L1487.3 1223.2L1488.8 1223.4L1490.3 1223.6L1491.9 1223.8L1493.4 1224.0L1495.0 1224.2L1496.6 1224.5L1498.1 1224.7L1499.8 1224.9L1501.4 1225.1L1503.0 1225.3L1504.4 1225.5L1505.8 1225.7L1507.2 1225.8L1508.6 1226.0L1510.0 1226.2L1511.5 1226.4L1512.9 1226.6L1514.4 1226.8L1515.8 1227.0L1517.3 1227.1L1518.8 1227.3L1520.2 1227.5L1521.7 1227.7L1523.2 1227.9L1524.7 1228.1L1526.2 1228.3L1527.7 1228.5L1529.2 1228.6L1530.8 1228.8L1532.3 1229.0L1533.8 1229.2L1535.3 1229.4L1536.9 1229.6L1538.4 1229.8L1539.9 1229.9L1541.5 1230.1L1543.0 1230.3L1544.6 1230.5L1546.1 1230.7L1547.6 1230.8L1549.2 1231.0L1550.7 1231.2L1552.3 1231.4L1553.8 1231.5L1555.4 1231.7L1556.9 1231.9L1558.5 1232.0L1560.0 1232.2L1561.5 1232.4L1562.9 1232.5L1564.3 1232.7L1565.7 1232.8L1567.1 1232.9L1568.5 1233.1L1569.9 1233.2L1571.3 1233.4L1572.6 1233.5L1574.0 1233.6L1575.4 1233.8L1576.7 1233.9L1578.1 1234.0L1579.4 1234.2L1580.8 1234.3L1582.2 1234.4L1583.5 1234.6L1584.9 1234.7L1586.3 1234.8L1587.7 1234.9L1589.1 1235.1L1590.5 1235.2L1592.0 1235.3L1593.4 1235.5L1594.9 1235.6L1596.4 1235.7L1597.9 1235.9L1599.4 1236.0L1601.0 1236.1L1602.5 1236.3L1604.1 1236.4L1605.8 1236.5L1607.4 1236.7L1609.1 1236.8L1610.9 1237.0L1612.6 1237.1L1614.4 1237.2L1616.2 1237.4L1618.1 1237.5L1620.0 1237.7L1621.3 1237.8L1622.5 1237.9L1623.8 1238.0L1625.1 1238.1L1626.4 1238.2L1627.8 1238.3L1629.1 1238.4L1630.5 1238.5L1631.8 1238.6L1633.2 1238.8L1634.6 1238.9L1636.1 1239.0L1637.5 1239.1L1638.9 1239.2L1640.4 1239.3L1641.8 1239.4L1643.3 1239.5L1644.8 1239.7L1646.3 1239.8L1647.8 1239.9L1649.3 1240.0L1650.8 1240.1L1652.4 1240.2L1653.9 1240.3L1655.5 1240.5L1657.0 1240.6L1658.6 1240.7L1660.1 1240.8L1661.7 1240.9L1663.3 1241.1L1664.9 1241.2L1666.5 1241.3L1668.1 1241.4L1669.6 1241.5L1671.2 1241.6L1672.8 1241.8L1674.4 1241.9L1676.1 1242.0L1677.7 1242.1L1679.3 1242.2L1680.9 1242.3L1682.5 1242.5L1684.1 1242.6L1685.7 1242.7L1687.3 1242.8L1688.9 1242.9L1690.5 1243.0L1692.1 1243.2L1693.7 1243.3L1695.3 1243.4L1696.9 1243.5L1698.5 1243.6L1700.0 1243.7L1701.6 1243.8L1703.2 1243.9L1704.8 1244.1L1706.3 1244.2L1707.9 1244.3L1709.4 1244.4L1711.0 1244.5L1712.5 1244.6L1714.0 1244.7L1715.5 1244.8L1717.0 1244.9L1718.5 1245.0L1720.1 1245.1L1721.6 1245.2L1723.1 1245.3L1724.6 1245.4L1726.1 1245.5L1727.6 1245.7L1729.2 1245.8L1730.7 1245.9L1732.2 1246.0L1733.7 1246.1L1735.2 1246.2L1736.7 1246.3L1738.2 1246.4L1739.7 1246.5L1741.3 1246.6L1742.8 1246.7L1744.3 1246.8L1745.8 1246.9L1747.3 1247.0L1748.8 1247.1L1750.3 1247.2L1751.9 1247.3L1753.4 1247.4L1754.9 1247.5L1756.4 1247.6L1757.9 1247.7L1759.4 1247.8L1760.9 1248.0L1762.5 1248.1L1764.0 1248.2L1765.5 1248.2L1767.0 1248.3L1768.5 1248.4L1770.0 1248.5L1771.5 1248.6L1773.1 1248.7L1774.6 1248.8L1776.1 1248.9L1777.6 1249.0L1779.1 1249.1L1780.6 1249.2L1782.2 1249.3L1783.7 1249.4L1785.2 1249.5L1786.7 1249.6L1788.2 1249.7L1789.7 1249.7L1791.3 1249.8L1792.8 1249.9L1794.3 1250.0L1795.8 1250.1L1797.3 1250.2L1798.9 1250.2L1800.4 1250.3L1801.9 1250.4L1803.4 1250.5L1805.0 1250.6L1806.5 1250.6L1808.0 1250.7L1809.5 1250.8L1811.0 1250.8L1812.5 1250.9L1814.0 1251.0L1815.5 1251.0L1817.0 1251.1L1818.5 1251.2L1820.0 1251.2L1821.5 1251.3L1823.0 1251.3L1824.5 1251.4L1826.0 1251.5L1827.5 1251.5L1828.9 1251.6L1830.4 1251.6L1831.9 1251.7L1833.4 1251.7L1834.9 1251.8L1836.4 1251.8L1837.9 1251.9L1839.4 1251.9L1840.9 1252.0L1842.4 1252.0L1843.9 1252.0L1845.4 1252.1L1846.9 1252.1L1848.4 1252.2L1849.9 1252.2L1851.4 1252.3L1852.9 1252.3L1854.4 1252.3L1855.9 1252.4L1857.4 1252.4L1858.9 1252.5L1860.4 1252.5L1861.9 1252.6L1863.4 1252.6L1864.9 1252.6L1866.4 1252.7L1867.9 1252.7L1869.4 1252.7L1870.9 1252.8L1872.4 1252.8L1873.9 1252.9L1875.5 1252.9L1877.0 1252.9L1878.5 1253.0L1880.0 1253.0L1881.5 1253.1L1883.1 1253.1L1884.6 1253.2L1886.1 1253.2L1887.6 1253.2L1889.2 1253.3L1890.7 1253.3L1892.2 1253.4L1893.8 1253.4L1895.3 1253.5L1896.8 1253.5L1898.4 1253.6L1899.9 1253.6L1901.5 1253.7L1903.0 1253.7L1904.5 1253.7L1906.0 1253.8L1907.5 1253.8L1909.1 1253.9L1910.6 1253.9L1912.2 1254.0L1913.8 1254.1L1915.5 1254.1L1917.1 1254.2L1918.7 1254.2L1920.4 1254.3L1922.1 1254.3L1923.8 1254.4L1925.4 1254.4L1927.1 1254.5L1928.9 1254.5L1930.6 1254.6L1932.3 1254.7L1934.0 1254.7L1935.8 1254.8L1937.5 1254.8L1939.2 1254.9L1941.0 1254.9L1942.7 1255.0L1944.4 1255.1L1946.2 1255.1L1947.9 1255.2L1949.6 1255.2L1951.4 1255.3L1953.1 1255.3L1954.8 1255.4L1956.5 1255.5L1958.2 1255.5L1959.9 1255.6L1961.5 1255.6L1963.2 1255.7L1964.9 1255.7L1966.5 1255.8L1968.1 1255.8L1969.7 1255.9L1971.3 1256.0L1972.9 1256.0L1974.5 1256.1L1976.0 1256.1L1977.5 1256.2L1979.0 1256.2L1980.5 1256.3L1981.9 1256.3L1983.4 1256.4L1984.8 1256.4L1986.1 1256.4L1987.5 1256.5L1988.8 1256.5L1990.1 1256.6L1991.4 1256.6L1992.6 1256.7L1993.8 1256.7L1995.0 1256.7L1996.1 1256.8L1997.2 1256.8L1998.3 1256.8L1999.3 1256.9L2000.3 1256.9L2001.2 1256.9L2002.1 1257.0L2003.0 1257.0L2008.8 1257.2L2012.5 1257.3L2014.5 1257.3L2015.2 1257.4L2015.2 1274.0L2014.5 1273.9L2012.5 1273.9L2008.8 1273.8L2003.0 1273.6L2002.1 1273.6L2001.2 1273.5L2000.3 1273.5L1999.3 1273.5L1998.3 1273.4L1997.2 1273.4L1996.1 1273.4L1995.0 1273.3L1993.8 1273.3L1992.6 1273.3L1991.4 1273.2L1990.1 1273.2L1988.8 1273.1L1987.5 1273.1L1986.1 1273.0L1984.8 1273.0L1983.4 1273.0L1981.9 1272.9L1980.5 1272.9L1979.0 1272.8L1977.5 1272.8L1976.0 1272.7L1974.5 1272.7L1972.9 1272.6L1971.3 1272.6L1969.7 1272.5L1968.1 1272.4L1966.5 1272.4L1964.9 1272.3L1963.2 1272.3L1961.5 1272.2L1959.9 1272.2L1958.2 1272.1L1956.5 1272.1L1954.8 1272.0L1953.1 1271.9L1951.4 1271.9L1949.6 1271.8L1947.9 1271.8L1946.2 1271.7L1944.4 1271.7L1942.7 1271.6L1941.0 1271.5L1939.2 1271.5L1937.5 1271.4L1935.8 1271.4L1934.0 1271.3L1932.3 1271.3L1930.6 1271.2L1928.9 1271.1L1927.1 1271.1L1925.4 1271.0L1923.8 1271.0L1922.1 1270.9L1920.4 1270.9L1918.7 1270.8L1917.1 1270.8L1915.5 1270.7L1913.8 1270.7L1912.2 1270.6L1910.6 1270.5L1909.1 1270.5L1907.5 1270.4L1906.0 1270.4L1904.5 1270.3L1903.0 1270.3L1901.5 1270.3L1899.9 1270.2L1898.4 1270.2L1896.8 1270.1L1895.3 1270.1L1893.8 1270.0L1892.2 1270.0L1890.7 1269.9L1889.2 1269.9L1887.6 1269.8L1886.1 1269.8L1884.6 1269.8L1883.1 1269.7L1881.5 1269.7L1880.0 1269.6L1878.5 1269.6L1877.0 1269.5L1875.5 1269.5L1873.9 1269.5L1872.4 1269.4L1870.9 1269.4L1869.4 1269.3L1867.9 1269.3L1866.4 1269.3L1864.9 1269.2L1863.4 1269.2L1861.9 1269.2L1860.4 1269.1L1858.9 1269.1L1857.4 1269.0L1855.9 1269.0L1854.4 1268.9L1852.9 1268.9L1851.4 1268.9L1849.9 1268.8L1848.4 1268.8L1846.9 1268.7L1845.4 1268.7L1843.9 1268.6L1842.4 1268.6L1840.9 1268.6L1839.4 1268.5L1837.9 1268.5L1836.4 1268.4L1834.9 1268.4L1833.4 1268.3L1831.9 1268.3L1830.4 1268.2L1828.9 1268.2L1827.5 1268.1L1826.0 1268.1L1824.5 1268.0L1823.0 1267.9L1821.5 1267.9L1820.0 1267.8L1818.5 1267.8L1817.0 1267.7L1815.5 1267.6L1814.0 1267.6L1812.5 1267.5L1811.0 1267.4L1809.5 1267.4L1808.0 1267.3L1806.5 1267.2L1805.0 1267.2L1803.4 1267.1L1801.9 1267.0L1800.4 1266.9L1798.9 1266.8L1797.3 1266.8L1795.8 1266.7L1794.3 1266.6L1792.8 1266.5L1791.3 1266.4L1789.7 1266.3L1788.2 1266.3L1786.7 1266.2L1785.2 1266.1L1783.7 1266.0L1782.2 1265.9L1780.6 1265.8L1779.1 1265.7L1777.6 1265.6L1776.1 1265.5L1774.6 1265.4L1773.1 1265.3L1771.5 1265.2L1770.0 1265.1L1768.5 1265.0L1767.0 1264.9L1765.5 1264.8L1764.0 1264.8L1762.5 1264.7L1760.9 1264.5L1759.4 1264.4L1757.9 1264.3L1756.4 1264.2L1754.9 1264.1L1753.4 1264.0L1751.9 1263.9L1750.3 1263.8L1748.8 1263.7L1747.3 1263.6L1745.8 1263.5L1744.3 1263.4L1742.8 1263.3L1741.3 1263.2L1739.7 1263.1L1738.2 1263.0L1736.7 1262.9L1735.2 1262.8L1733.7 1262.7L1732.2 1262.6L1730.7 1262.5L1729.2 1262.4L1727.6 1262.3L1726.1 1262.1L1724.6 1262.0L1723.1 1261.9L1721.6 1261.8L1720.1 1261.7L1718.5 1261.6L1717.0 1261.5L1715.5 1261.4L1714.0 1261.3L1712.5 1261.2L1711.0 1261.1L1709.4 1261.0L1707.9 1260.9L1706.3 1260.8L1704.8 1260.7L1703.2 1260.5L1701.6 1260.4L1700.0 1260.3L1698.5 1260.2L1696.9 1260.1L1695.3 1260.0L1693.7 1259.9L1692.1 1259.8L1690.5 1259.6L1688.9 1259.5L1687.3 1259.4L1685.7 1259.3L1684.1 1259.2L1682.5 1259.1L1680.9 1258.9L1679.3 1258.8L1677.7 1258.7L1676.1 1258.6L1674.4 1258.5L1672.8 1258.4L1671.2 1258.2L1669.6 1258.1L1668.1 1258.0L1666.5 1257.9L1664.9 1257.8L1663.3 1257.7L1661.7 1257.5L1660.1 1257.4L1658.6 1257.3L1657.0 1257.2L1655.5 1257.1L1653.9 1256.9L1652.4 1256.8L1650.8 1256.7L1649.3 1256.6L1647.8 1256.5L1646.3 1256.4L1644.8 1256.3L1643.3 1256.1L1641.8 1256.0L1640.4 1255.9L1638.9 1255.8L1637.5 1255.7L1636.1 1255.6L1634.6 1255.5L1633.2 1255.4L1631.8 1255.2L1630.5 1255.1L1629.1 1255.0L1627.8 1254.9L1626.4 1254.8L1625.1 1254.7L1623.8 1254.6L1622.5 1254.5L1621.3 1254.4L1620.0 1254.3L1618.1 1254.1L1616.2 1254.0L1614.4 1253.8L1612.6 1253.7L1610.9 1253.6L1609.1 1253.4L1607.4 1253.3L1605.8 1253.1L1604.1 1253.0L1602.5 1252.9L1601.0 1252.7L1599.4 1252.6L1597.9 1252.5L1596.4 1252.3L1594.9 1252.2L1593.4 1252.1L1592.0 1251.9L1590.5 1251.8L1589.1 1251.7L1587.7 1251.5L1586.3 1251.4L1584.9 1251.3L1583.5 1251.2L1582.2 1251.0L1580.8 1250.9L1579.4 1250.8L1578.1 1250.6L1576.7 1250.5L1575.4 1250.4L1574.0 1250.2L1572.6 1250.1L1571.3 1250.0L1569.9 1249.8L1568.5 1249.7L1567.1 1249.5L1565.7 1249.4L1564.3 1249.3L1562.9 1249.1L1561.5 1249.0L1560.0 1248.8L1558.5 1248.6L1556.9 1248.5L1555.4 1248.3L1553.8 1248.1L1552.3 1248.0L1550.7 1247.8L1549.2 1247.6L1547.6 1247.4L1546.1 1247.3L1544.6 1247.1L1543.0 1246.9L1541.5 1246.7L1539.9 1246.5L1538.4 1246.4L1536.9 1246.2L1535.3 1246.0L1533.8 1245.8L1532.3 1245.6L1530.8 1245.4L1529.2 1245.2L1527.7 1245.1L1526.2 1244.9L1524.7 1244.7L1523.2 1244.5L1521.7 1244.3L1520.2 1244.1L1518.8 1243.9L1517.3 1243.7L1515.8 1243.6L1514.4 1243.4L1512.9 1243.2L1511.5 1243.0L1510.0 1242.8L1508.6 1242.6L1507.2 1242.4L1505.8 1242.3L1504.4 1242.1L1503.0 1241.9L1501.4 1241.7L1499.8 1241.5L1498.1 1241.3L1496.6 1241.1L1495.0 1240.8L1493.4 1240.6L1491.9 1240.4L1490.3 1240.2L1488.8 1240.0L1487.3 1239.8L1485.8 1239.6L1484.3 1239.4L1482.8 1239.2L1481.3 1239.0L1479.8 1238.8L1478.4 1238.5L1476.9 1238.3L1475.4 1238.1L1474.0 1237.9L1472.5 1237.7L1471.1 1237.5L1469.6 1237.3L1468.2 1237.1L1466.7 1236.9L1465.3 1236.6L1463.8 1236.4L1462.4 1236.2L1460.9 1236.0L1459.4 1235.8L1458.0 1235.5L1456.5 1235.3L1455.0 1235.1L1453.5 1234.9L1451.9 1234.6L1450.4 1234.4L1448.9 1234.2L1447.4 1233.9L1445.9 1233.7L1444.3 1233.5L1442.8 1233.2L1441.3 1233.0L1439.8 1232.7L1438.3 1232.5L1436.8 1232.3L1435.3 1232.0L1433.8 1231.8L1432.3 1231.5L1430.7 1231.3L1429.2 1231.1L1427.7 1230.8L1426.2 1230.6L1424.7 1230.3L1423.2 1230.1L1421.7 1229.8L1420.2 1229.6L1418.7 1229.3L1417.1 1229.1L1415.6 1228.8L1414.1 1228.5L1412.6 1228.3L1411.1 1228.0L1409.5 1227.8L1408.0 1227.5L1406.5 1227.2L1405.0 1227.0L1403.5 1226.7L1402.0 1226.5L1400.5 1226.2L1399.0 1226.0L1397.5 1225.7L1396.0 1225.4L1394.5 1225.2L1393.0 1224.9L1391.5 1224.6L1390.0 1224.4L1388.5 1224.1L1387.0 1223.8L1385.4 1223.6L1383.9 1223.3L1382.4 1223.0L1380.9 1222.8L1379.4 1222.5L1377.9 1222.2L1376.4 1221.9L1374.9 1221.7L1373.4 1221.4L1371.9 1221.1L1370.4 1220.8L1368.9 1220.5L1367.4 1220.2L1365.9 1220.0L1364.4 1219.7L1362.9 1219.4L1361.5 1219.1L1360.0 1218.8L1358.5 1218.5L1357.0 1218.2L1355.5 1217.9L1354.0 1217.6L1352.4 1217.3L1350.9 1217.0L1349.4 1216.7L1347.9 1216.4L1346.4 1216.1L1344.9 1215.8L1343.4 1215.4L1342.0 1215.1L1340.5 1214.8L1339.0 1214.5L1337.5 1214.2L1336.0 1213.9L1334.5 1213.6L1333.0 1213.2L1331.6 1212.9L1330.1 1212.6L1328.6 1212.3L1327.1 1211.9L1325.7 1211.6L1324.2 1211.3L1322.7 1210.9L1321.3 1210.6L1319.8 1210.2L1318.4 1209.9L1316.9 1209.5L1315.5 1209.2L1314.0 1208.8L1312.5 1208.4L1311.0 1208.0L1309.5 1207.7L1308.1 1207.3L1306.6 1206.9L1305.2 1206.5L1303.7 1206.1L1302.3 1205.7L1300.8 1205.3L1299.4 1204.9L1298.0 1204.5L1296.5 1204.1L1295.1 1203.7L1293.7 1203.3L1292.2 1202.9L1290.8 1202.5L1289.4 1202.1L1287.9 1201.7L1286.5 1201.2L1285.0 1200.8L1283.6 1200.4L1282.1 1199.9L1280.6 1199.5L1279.2 1199.1L1277.7 1198.6L1276.2 1198.2L1274.6 1197.7L1273.1 1197.2L1271.6 1196.8L1270.0 1196.3L1268.6 1195.9L1267.2 1195.5L1265.8 1195.0L1264.3 1194.6L1262.9 1194.1L1261.4 1193.7L1259.9 1193.2L1258.4 1192.8L1256.9 1192.3L1255.4 1191.9L1253.9 1191.4L1252.4 1190.9L1250.9 1190.4L1249.3 1190.0L1247.8 1189.5L1246.3 1189.0L1244.8 1188.5L1243.2 1188.0L1241.7 1187.5L1240.2 1187.1L1238.7 1186.6L1237.2 1186.1L1235.6 1185.6L1234.2 1185.1L1232.7 1184.6L1231.2 1184.1L1229.7 1183.7L1228.3 1183.2L1226.9 1182.7L1225.5 1182.2L1224.1 1181.7L1222.7 1181.2L1221.3 1180.8L1220.0 1180.3L1218.4 1179.7L1216.8 1179.2L1215.3 1178.6L1213.8 1178.0L1212.3 1177.5L1210.8 1176.9L1209.3 1176.4L1207.8 1175.8L1206.4 1175.3L1205.0 1174.7L1203.6 1174.2L1202.2 1173.7L1200.8 1173.1L1199.4 1172.5L1198.0 1172.0L1196.6 1171.4L1195.2 1170.9L1193.9 1170.3L1192.5 1169.7L1191.1 1169.2L1189.8 1168.6L1188.4 1168.0L1187.0 1167.4L1185.6 1166.8L1184.2 1166.2L1182.8 1165.6L1181.4 1164.9L1180.0 1164.3L1178.6 1163.7L1177.2 1163.0L1175.8 1162.4L1174.4 1161.7L1172.9 1161.0L1171.5 1160.4L1170.0 1159.7L1168.5 1159.0L1167.1 1158.3L1165.6 1157.5L1164.1 1156.8L1162.6 1156.1L1161.2 1155.4L1159.7 1154.7L1158.3 1153.9L1156.8 1153.2L1155.4 1152.5L1154.0 1151.8L1152.6 1151.1L1151.2 1150.3L1149.9 1149.6L1148.5 1148.9L1147.2 1148.2L1146.0 1147.6L1144.7 1146.9L1143.5 1146.2L1142.3 1145.6L1141.1 1144.9L1140.0 1144.3L1138.4 1143.4L1136.8 1142.5L1135.4 1141.6L1134.0 1140.7L1132.7 1139.8L1131.4 1139.0L1130.2 1138.2L1129.1 1137.3L1127.9 1136.5L1126.8 1135.7L1125.7 1134.9L1124.6 1134.1L1123.5 1133.3L1122.4 1132.5L1121.2 1131.7L1120.0 1130.8L1118.7 1130.0L1117.4 1129.2L1116.0 1128.3L1114.8 1127.6L1113.6 1126.9L1112.4 1126.2L1111.1 1125.4L1109.8 1124.7L1108.6 1124.0L1107.3 1123.3L1106.0 1122.6L1104.6 1121.9L1103.3 1121.2L1102.0 1120.5L1100.6 1119.7L1099.3 1119.0L1097.9 1118.3L1096.5 1117.5L1095.2 1116.8L1093.8 1116.0L1092.5 1115.3L1091.1 1114.5L1089.8 1113.7L1088.4 1112.9L1087.1 1112.1L1085.8 1111.3L1084.5 1110.5L1083.3 1109.7L1082.0 1108.9L1080.8 1108.1L1079.5 1107.4L1078.3 1106.6L1077.0 1105.8L1075.8 1104.9L1074.5 1104.1L1073.3 1103.3L1072.0 1102.5L1070.8 1101.6L1069.5 1100.8L1068.2 1099.9L1067.0 1099.1L1065.7 1098.2L1064.5 1097.3L1063.2 1096.4L1062.0 1095.5L1060.7 1094.5L1059.5 1093.6L1058.2 1092.6L1057.0 1091.6L1055.7 1090.6L1054.6 1089.7L1053.5 1088.8L1052.3 1087.9L1051.2 1086.9L1050.1 1086.0L1049.0 1085.0L1047.9 1084.1L1046.8 1083.1L1045.6 1082.1L1044.5 1081.1L1043.4 1080.1L1042.3 1079.1L1041.2 1078.1L1040.0 1077.1L1038.9 1076.0L1037.8 1075.0L1036.7 1073.9L1035.6 1072.8L1034.4 1071.7L1033.3 1070.6L1032.2 1069.5L1031.1 1068.4L1030.0 1067.3L1028.9 1066.1L1027.7 1065.0L1026.6 1063.8ZM2006.5 1265.7L2006.5 1265.6L2024.0 1265.6L2024.0 1265.7ZM2015.2 1273.9L2014.9 1273.9L2014.7 1273.9L2015.0 1273.9L2015.0 1257.3L2014.7 1257.3L2014.9 1257.3L2015.2 1257.3Z"/>
<path fill="#fe0000" d="M401.1 917.1L409.5 925.2L401.1 933.3L392.7 925.2ZM666.0 724.4L674.4 732.5L666.0 740.6L657.6 732.5ZM768.7 611.3L777.1 619.4L768.7 627.5L760.3 619.4ZM800.4 579.9L808.8 588.0L800.4 596.1L792.0 588.0ZM902.7 1041.6L911.1 1049.7L902.7 1057.8L894.3 1049.7ZM916.5 1036.4L924.9 1044.5L916.5 1052.6L908.1 1044.5ZM1129.5 517.4L1137.9 525.5L1129.5 533.6L1121.1 525.5ZM2015.2 253.2L2023.7 261.3L2015.2 269.4L2006.8 261.3ZM2015.2 253.2L2023.6 261.3L2015.2 269.4L2006.8 261.3ZM386.4 884.0L386.8 884.8L387.4 885.8L388.0 887.1L388.7 888.4L389.5 889.9L390.3 891.4L391.2 893.1L392.1 894.7L392.9 896.4L393.8 898.0L394.6 899.5L395.4 901.0L396.2 902.4L396.9 903.9L397.7 905.4L398.5 907.0L399.3 908.5L400.0 910.0L400.8 911.5L401.5 912.9L402.3 914.3L403.0 915.6L403.7 916.9L404.4 918.0L405.5 919.8L406.5 921.4L407.5 922.8L408.5 924.1L409.5 925.2L392.7 925.2L391.7 924.1L390.7 922.8L389.7 921.4L388.7 919.8L387.6 918.0L386.9 916.9L386.2 915.6L385.5 914.3L384.7 912.9L384.0 911.5L383.2 910.0L382.5 908.5L381.7 907.0L380.9 905.4L380.1 903.9L379.4 902.4L378.6 901.0L377.8 899.5L377.0 898.0L376.1 896.4L375.3 894.7L374.4 893.1L373.5 891.4L372.7 889.9L371.9 888.4L371.2 887.1L370.6 885.8L370.0 884.8L369.6 884.0ZM401.1 917.1L402.0 918.1L403.0 918.9L404.7 920.0L406.3 920.6L408.0 920.7L410.0 920.4L411.1 920.1L412.2 919.7L413.3 919.2L414.5 918.5L416.0 917.6L417.8 916.4L420.0 914.9L420.9 914.3L421.8 913.7L422.7 913.1L423.6 912.4L424.6 911.7L425.6 911.0L426.6 910.3L427.7 909.6L428.8 908.8L430.0 907.9L431.2 907.1L432.5 906.1L433.8 905.2L435.2 904.2L436.6 903.1L438.2 902.0L439.8 900.8L441.4 899.6L443.2 898.3L445.0 896.9L445.9 896.2L446.9 895.5L447.9 894.7L448.9 894.0L449.9 893.2L451.0 892.4L452.1 891.6L453.2 890.7L454.3 889.9L455.5 889.0L456.6 888.1L457.8 887.2L459.0 886.3L460.2 885.4L461.5 884.5L462.7 883.5L464.0 882.6L465.2 881.6L466.5 880.6L467.8 879.6L469.1 878.7L470.4 877.7L471.7 876.7L473.0 875.7L474.3 874.7L475.6 873.7L477.0 872.6L478.3 871.6L479.6 870.6L480.9 869.6L482.2 868.6L483.6 867.6L484.9 866.6L486.2 865.6L487.5 864.6L488.7 863.7L490.0 862.7L491.3 861.7L492.5 860.8L493.8 859.8L495.0 858.9L496.2 858.0L497.5 857.0L498.7 856.1L499.9 855.2L501.2 854.2L502.4 853.3L503.7 852.3L504.9 851.3L506.2 850.4L507.5 849.4L508.7 848.5L510.0 847.5L511.3 846.5L512.5 845.6L513.8 844.6L515.1 843.6L516.3 842.7L517.6 841.7L518.9 840.7L520.1 839.8L521.4 838.8L522.6 837.9L523.9 836.9L525.1 836.0L526.4 835.0L527.6 834.1L528.8 833.2L530.0 832.2L531.2 831.3L532.4 830.4L533.6 829.5L534.8 828.6L536.0 827.7L537.2 826.8L538.3 826.0L539.5 825.1L540.6 824.2L541.7 823.4L542.8 822.5L543.9 821.7L545.0 820.9L546.4 819.8L547.8 818.8L549.2 817.7L550.6 816.7L552.0 815.6L553.4 814.6L554.7 813.6L556.1 812.6L557.4 811.6L558.7 810.6L560.0 809.6L561.3 808.6L562.6 807.7L563.9 806.7L565.1 805.8L566.4 804.8L567.6 803.9L568.8 803.0L570.0 802.1L571.2 801.2L572.3 800.4L573.5 799.5L574.6 798.7L575.7 797.8L576.8 797.0L577.9 796.2L579.0 795.4L580.0 794.6L581.0 793.9L582.0 793.1L583.0 792.4L584.6 791.2L586.1 790.1L587.5 789.0L588.8 788.0L590.0 787.1L591.2 786.2L592.3 785.4L593.4 784.5L594.5 783.7L595.6 783.0L596.6 782.2L597.7 781.4L598.8 780.5L599.9 779.7L601.1 778.8L602.3 777.9L603.6 776.9L605.0 775.9L606.1 775.1L607.2 774.3L608.4 773.5L609.5 772.6L610.7 771.8L611.9 770.9L613.2 770.1L614.4 769.2L615.7 768.3L616.9 767.5L618.2 766.6L619.5 765.6L620.8 764.7L622.1 763.8L623.4 762.9L624.7 761.9L626.0 761.0L627.3 760.0L628.6 759.0L629.9 758.0L631.2 757.0L632.5 756.0L633.7 754.9L635.0 753.9L636.1 753.0L637.2 752.0L638.3 751.0L639.4 750.1L640.5 749.1L641.6 748.1L642.8 747.1L643.9 746.1L645.0 745.1L646.1 744.1L647.2 743.0L648.3 742.0L649.4 740.9L650.5 739.9L651.6 738.8L652.7 737.7L653.8 736.6L654.9 735.5L656.0 734.4L657.2 733.3L658.3 732.2L659.4 731.1L660.5 730.0L661.6 728.8L662.7 727.7L663.9 726.6L665.0 725.4L666.0 724.4L666.0 740.6L665.0 741.6L663.9 742.8L662.7 743.9L661.6 745.0L660.5 746.2L659.4 747.3L658.3 748.4L657.2 749.5L656.0 750.6L654.9 751.7L653.8 752.8L652.7 753.9L651.6 755.0L650.5 756.1L649.4 757.1L648.3 758.2L647.2 759.2L646.1 760.3L645.0 761.3L643.9 762.3L642.8 763.3L641.6 764.3L640.5 765.3L639.4 766.3L638.3 767.2L637.2 768.2L636.1 769.2L635.0 770.1L633.7 771.1L632.5 772.2L631.2 773.2L629.9 774.2L628.6 775.2L627.3 776.2L626.0 777.2L624.7 778.1L623.4 779.1L622.1 780.0L620.8 780.9L619.5 781.9L618.2 782.8L616.9 783.7L615.7 784.5L614.4 785.4L613.2 786.3L611.9 787.1L610.7 788.0L609.5 788.8L608.4 789.7L607.2 790.5L606.1 791.3L605.0 792.1L603.6 793.1L602.3 794.1L601.1 795.0L599.9 795.9L598.8 796.7L597.7 797.6L596.6 798.4L595.6 799.2L594.5 799.9L593.4 800.7L592.3 801.6L591.2 802.4L590.0 803.3L588.8 804.2L587.5 805.2L586.1 806.3L584.6 807.4L583.0 808.6L582.0 809.3L581.0 810.1L580.0 810.8L579.0 811.6L577.9 812.4L576.8 813.2L575.7 814.0L574.6 814.9L573.5 815.7L572.3 816.6L571.2 817.4L570.0 818.3L568.8 819.2L567.6 820.1L566.4 821.0L565.1 822.0L563.9 822.9L562.6 823.9L561.3 824.8L560.0 825.8L558.7 826.8L557.4 827.8L556.1 828.8L554.7 829.8L553.4 830.8L552.0 831.8L550.6 832.9L549.2 833.9L547.8 835.0L546.4 836.0L545.0 837.1L543.9 837.9L542.8 838.7L541.7 839.6L540.6 840.4L539.5 841.3L538.3 842.2L537.2 843.0L536.0 843.9L534.8 844.8L533.6 845.7L532.4 846.6L531.2 847.5L530.0 848.4L528.8 849.4L527.6 850.3L526.4 851.2L525.1 852.2L523.9 853.1L522.6 854.1L521.4 855.0L520.1 856.0L518.9 856.9L517.6 857.9L516.3 858.9L515.1 859.8L513.8 860.8L512.5 861.8L511.3 862.7L510.0 863.7L508.7 864.7L507.5 865.6L506.2 866.6L504.9 867.5L503.7 868.5L502.4 869.5L501.2 870.4L499.9 871.4L498.7 872.3L497.5 873.2L496.2 874.2L495.0 875.1L493.8 876.0L492.5 877.0L491.3 877.9L490.0 878.9L488.7 879.9L487.5 880.8L486.2 881.8L484.9 882.8L483.6 883.8L482.2 884.8L480.9 885.8L479.6 886.8L478.3 887.8L477.0 888.8L475.6 889.9L474.3 890.9L473.0 891.9L471.7 892.9L470.4 893.9L469.1 894.9L467.8 895.8L466.5 896.8L465.2 897.8L464.0 898.8L462.7 899.7L461.5 900.7L460.2 901.6L459.0 902.5L457.8 903.4L456.6 904.3L455.5 905.2L454.3 906.1L453.2 906.9L452.1 907.8L451.0 908.6L449.9 909.4L448.9 910.2L447.9 910.9L446.9 911.7L445.9 912.4L445.0 913.1L443.2 914.5L441.4 915.8L439.8 917.0L438.2 918.2L436.6 919.3L435.2 920.4L433.8 921.4L432.5 922.3L431.2 923.3L430.0 924.1L428.8 925.0L427.7 925.8L426.6 926.5L425.6 927.2L424.6 927.9L423.6 928.6L422.7 929.3L421.8 929.9L420.9 930.5L420.0 931.1L417.8 932.6L416.0 933.8L414.5 934.7L413.3 935.4L412.2 935.9L411.1 936.3L410.0 936.6L408.0 936.9L406.3 936.8L404.7 936.2L403.0 935.1L402.0 934.3L401.1 933.3ZM657.6 732.5L658.6 731.4L659.7 730.3L660.7 729.2L661.7 728.1L662.8 727.0L663.8 725.9L664.8 724.8L665.9 723.7L666.9 722.5L667.9 721.4L669.0 720.2L670.0 719.1L671.1 717.9L672.1 716.8L673.1 715.6L674.2 714.4L675.2 713.3L676.3 712.1L677.3 710.9L678.3 709.8L679.4 708.6L680.4 707.4L681.4 706.3L682.5 705.1L683.5 704.0L684.5 702.9L685.6 701.7L686.6 700.6L687.6 699.5L688.7 698.4L689.7 697.2L690.7 696.1L691.8 695.0L692.8 693.8L693.9 692.7L694.9 691.6L695.9 690.5L697.0 689.4L698.0 688.2L699.1 687.1L700.1 686.0L701.1 684.9L702.1 683.8L703.2 682.7L704.2 681.6L705.2 680.5L706.3 679.4L707.3 678.3L708.3 677.1L709.4 676.0L710.4 674.9L711.4 673.8L712.4 672.7L713.5 671.5L714.5 670.4L715.5 669.3L716.6 668.1L717.6 667.0L718.6 665.9L719.6 664.7L720.6 663.6L721.7 662.4L722.7 661.3L723.8 660.1L724.8 658.9L725.9 657.7L726.9 656.5L728.0 655.3L729.1 654.1L730.1 652.9L731.2 651.7L732.2 650.4L733.3 649.2L734.3 648.1L735.3 646.9L736.4 645.7L737.4 644.5L738.4 643.4L739.4 642.3L740.4 641.1L741.3 640.0L742.3 639.0L743.2 637.9L744.1 636.9L745.0 635.9L745.9 634.9L746.8 633.9L747.6 633.0L748.9 631.5L750.2 630.1L751.5 628.7L752.7 627.4L753.9 626.2L755.0 624.9L756.1 623.8L757.2 622.6L758.3 621.5L759.3 620.5L760.3 619.4L777.1 619.4L776.1 620.5L775.1 621.5L774.0 622.6L772.9 623.8L771.8 624.9L770.7 626.2L769.5 627.4L768.3 628.7L767.0 630.1L765.7 631.5L764.4 633.0L763.6 633.9L762.7 634.9L761.8 635.9L760.9 636.9L760.0 637.9L759.1 639.0L758.1 640.0L757.2 641.1L756.2 642.3L755.2 643.4L754.2 644.5L753.2 645.7L752.1 646.9L751.1 648.1L750.1 649.2L749.0 650.4L748.0 651.7L746.9 652.9L745.9 654.1L744.8 655.3L743.7 656.5L742.7 657.7L741.6 658.9L740.6 660.1L739.5 661.3L738.5 662.4L737.4 663.6L736.4 664.7L735.4 665.9L734.4 667.0L733.4 668.1L732.3 669.3L731.3 670.4L730.3 671.5L729.2 672.7L728.2 673.8L727.2 674.9L726.2 676.0L725.1 677.1L724.1 678.3L723.1 679.4L722.0 680.5L721.0 681.6L720.0 682.7L718.9 683.8L717.9 684.9L716.9 686.0L715.9 687.1L714.8 688.2L713.8 689.4L712.7 690.5L711.7 691.6L710.7 692.7L709.6 693.8L708.6 695.0L707.5 696.1L706.5 697.2L705.5 698.4L704.4 699.5L703.4 700.6L702.4 701.7L701.3 702.9L700.3 704.0L699.3 705.1L698.2 706.3L697.2 707.4L696.2 708.6L695.1 709.8L694.1 710.9L693.1 712.1L692.0 713.3L691.0 714.4L689.9 715.6L688.9 716.8L687.9 717.9L686.8 719.1L685.8 720.2L684.7 721.4L683.7 722.5L682.7 723.7L681.6 724.8L680.6 725.9L679.6 727.0L678.5 728.1L677.5 729.2L676.5 730.3L675.4 731.4L674.4 732.5ZM768.7 611.3L769.7 610.3L770.7 609.3L771.6 608.3L772.6 607.3L773.5 606.3L774.5 605.4L775.4 604.4L776.7 603.1L777.9 601.8L779.1 600.6L780.3 599.5L781.4 598.3L782.5 597.2L783.6 596.2L784.7 595.1L785.8 594.1L786.8 593.0L787.9 592.0L788.9 591.0L790.0 589.9L791.2 588.8L792.4 587.6L793.6 586.5L794.8 585.4L795.9 584.3L797.1 583.2L798.3 582.1L799.4 581.0L800.4 579.9L800.4 596.1L799.4 597.2L798.3 598.3L797.1 599.4L795.9 600.5L794.8 601.6L793.6 602.7L792.4 603.8L791.2 605.0L790.0 606.1L788.9 607.2L787.9 608.2L786.8 609.2L785.8 610.3L784.7 611.3L783.6 612.4L782.5 613.4L781.4 614.5L780.3 615.7L779.1 616.8L777.9 618.0L776.7 619.3L775.4 620.6L774.5 621.6L773.5 622.5L772.6 623.5L771.6 624.5L770.7 625.5L769.7 626.5L768.7 627.5ZM792.0 588.0L793.0 587.0L793.9 585.9L794.8 584.8L795.8 583.4L796.7 582.0L797.5 580.6L798.2 579.2L798.8 577.9L799.4 576.5L799.9 575.0L800.5 573.5L801.1 572.0L801.6 570.6L802.1 569.3L802.5 567.9L803.0 566.6L803.4 565.2L803.8 563.7L804.2 562.2L804.7 560.5L805.2 558.6L805.8 556.5L806.1 555.3L806.5 554.1L806.8 552.8L807.2 551.4L807.6 550.0L808.0 548.5L808.4 547.0L808.8 545.5L809.3 544.0L809.7 542.4L810.1 540.8L810.5 539.2L810.9 537.6L811.4 536.1L811.8 534.5L812.1 532.9L812.5 531.3L812.9 529.8L813.2 528.3L813.5 526.8L813.8 525.4L814.1 523.9L814.4 522.5L814.7 521.0L814.9 519.6L815.2 518.1L815.5 516.7L815.7 515.3L815.9 513.8L816.2 512.4L816.4 510.9L816.7 509.4L816.9 507.9L817.2 506.4L817.4 504.8L817.7 503.2L817.9 501.6L818.2 500.0L818.4 498.6L818.7 497.2L818.9 495.8L819.1 494.4L819.4 493.0L819.6 491.5L819.8 490.1L820.1 488.6L820.3 487.1L820.6 485.6L820.8 484.1L821.0 482.6L821.3 481.0L821.5 479.5L821.8 478.0L822.0 476.4L822.2 474.9L822.5 473.3L822.7 471.8L822.9 470.2L823.2 468.6L823.4 467.1L823.6 465.5L823.8 464.1L824.0 462.6L824.2 461.1L824.4 459.6L824.6 458.2L824.8 456.7L825.0 455.2L825.2 453.6L825.4 452.1L825.6 450.6L825.8 449.1L825.9 447.6L826.1 446.0L826.3 444.5L826.5 443.0L826.7 441.5L826.9 439.9L827.1 438.4L827.2 436.9L827.4 435.4L827.6 433.9L827.8 432.4L828.0 430.9L828.1 429.5L828.3 428.0L828.5 426.4L828.7 424.7L828.9 423.0L829.1 421.3L829.3 419.5L829.5 417.8L829.7 416.0L829.9 414.2L830.1 412.4L830.3 410.7L830.5 408.9L830.6 407.2L830.8 405.5L831.0 403.9L831.2 402.3L831.3 400.8L832.3 399.4L833.3 398.1L834.2 396.8L835.0 395.6L835.8 394.6L836.5 393.6L837.1 392.8L844.1 392.8L844.5 393.6L845.0 394.6L845.5 395.6L846.1 396.8L846.8 398.1L847.4 399.4L848.1 400.8L848.0 402.3L847.8 403.9L847.6 405.5L847.4 407.2L847.3 408.9L847.1 410.7L846.9 412.4L846.7 414.2L846.5 416.0L846.3 417.8L846.1 419.5L845.9 421.3L845.7 423.0L845.5 424.7L845.3 426.4L845.1 428.0L844.9 429.5L844.8 430.9L844.6 432.4L844.4 433.9L844.2 435.4L844.0 436.9L843.9 438.4L843.7 439.9L843.5 441.5L843.3 443.0L843.1 444.5L842.9 446.0L842.7 447.6L842.6 449.1L842.4 450.6L842.2 452.1L842.0 453.6L841.8 455.2L841.6 456.7L841.4 458.2L841.2 459.6L841.0 461.1L840.8 462.6L840.6 464.1L840.4 465.5L840.2 467.1L840.0 468.6L839.7 470.2L839.5 471.8L839.3 473.3L839.0 474.9L838.8 476.4L838.6 478.0L838.3 479.5L838.1 481.0L837.8 482.6L837.6 484.1L837.4 485.6L837.1 487.1L836.9 488.6L836.6 490.1L836.4 491.5L836.2 493.0L835.9 494.4L835.7 495.8L835.5 497.2L835.2 498.6L835.0 500.0L834.7 501.6L834.5 503.2L834.2 504.8L834.0 506.4L833.7 507.9L833.5 509.4L833.2 510.9L833.0 512.4L832.7 513.8L832.5 515.3L832.3 516.7L832.0 518.1L831.7 519.6L831.5 521.0L831.2 522.5L830.9 523.9L830.6 525.4L830.3 526.8L830.0 528.3L829.7 529.8L829.3 531.3L828.9 532.9L828.6 534.5L828.2 536.1L827.7 537.6L827.3 539.2L826.9 540.8L826.5 542.4L826.1 544.0L825.6 545.5L825.2 547.0L824.8 548.5L824.4 550.0L824.0 551.4L823.6 552.8L823.3 554.1L822.9 555.3L822.6 556.5L822.0 558.6L821.5 560.5L821.0 562.2L820.6 563.7L820.2 565.2L819.8 566.6L819.3 567.9L818.9 569.3L818.4 570.6L817.9 572.0L817.3 573.5L816.7 575.0L816.2 576.5L815.6 577.9L815.0 579.2L814.3 580.6L813.5 582.0L812.6 583.4L811.6 584.8L810.7 585.9L809.8 587.0L808.8 588.0ZM844.1 392.8L845.0 393.6L846.0 394.7L847.2 395.9L848.5 397.3L850.0 398.8L851.6 400.4L852.4 402.1L853.0 403.8L853.7 405.5L854.3 407.2L854.8 408.9L855.4 410.5L855.9 412.0L856.4 413.5L856.9 415.1L857.4 416.8L857.9 418.5L858.4 420.2L858.8 421.9L859.3 423.5L859.7 425.1L860.2 426.6L860.5 427.9L860.9 429.1L861.2 430.2L861.4 431.0L861.5 431.8L861.6 432.7L861.8 433.7L861.9 434.8L862.1 436.0L862.2 437.3L862.4 438.6L862.6 440.0L862.8 441.5L863.0 443.0L863.2 444.6L863.5 446.2L863.7 447.9L863.9 449.6L864.1 451.3L864.3 453.1L864.5 454.8L864.7 456.6L864.9 458.4L865.1 460.2L865.3 462.0L865.5 463.8L865.6 465.5L865.7 466.8L865.8 468.1L865.9 469.5L866.0 470.8L866.1 472.1L866.1 473.4L866.2 474.7L866.3 476.0L866.3 477.3L866.4 478.6L866.5 479.9L866.5 481.3L866.6 482.7L866.6 484.1L866.7 485.5L866.7 486.9L866.8 488.4L866.9 489.9L866.9 491.4L867.0 492.9L867.0 494.5L867.1 496.2L867.2 497.9L867.3 499.6L867.4 501.4L867.5 503.2L867.6 505.0L867.7 507.0L867.8 509.0L867.9 511.0L868.0 512.2L868.0 513.4L868.1 514.6L868.2 515.8L868.3 517.1L868.4 518.3L868.4 519.5L868.5 520.8L868.6 522.1L868.7 523.3L868.8 524.6L868.9 525.9L869.0 527.2L869.1 528.5L869.1 529.8L869.2 531.2L869.3 532.5L869.4 533.9L869.5 535.2L869.6 536.6L869.7 538.0L869.8 539.4L869.9 540.9L870.0 542.3L870.1 543.7L870.2 545.2L870.3 546.7L870.4 548.2L870.5 549.7L870.6 551.3L870.8 552.8L870.9 554.4L871.0 556.0L871.1 557.6L871.2 559.2L871.3 560.8L871.4 562.5L871.5 564.2L871.6 565.9L871.8 567.6L871.9 569.3L872.0 571.1L872.1 572.9L872.2 574.7L872.4 576.5L872.5 578.4L872.6 580.3L872.7 582.2L872.8 584.1L873.0 586.0L873.1 588.0L873.2 590.0L873.3 591.2L873.4 592.5L873.4 593.7L873.5 595.0L873.6 596.3L873.7 597.6L873.7 598.9L873.8 600.2L873.9 601.5L874.0 602.9L874.1 604.2L874.1 605.6L874.2 607.0L874.3 608.4L874.4 609.8L874.5 611.2L874.5 612.6L874.6 614.0L874.7 615.5L874.8 616.9L874.9 618.4L875.0 619.9L875.0 621.4L875.1 622.9L875.2 624.4L875.3 625.9L875.4 627.4L875.5 628.9L875.6 630.4L875.7 632.0L875.7 633.5L875.8 635.1L875.9 636.6L876.0 638.2L876.1 639.7L876.2 641.3L876.3 642.9L876.4 644.5L876.5 646.1L876.5 647.7L876.6 649.2L876.7 650.8L876.8 652.4L876.9 654.0L877.0 655.6L877.1 657.2L877.2 658.9L877.3 660.5L877.4 662.1L877.4 663.7L877.5 665.3L877.6 666.9L877.7 668.5L877.8 670.1L877.9 671.8L878.0 673.4L878.1 675.0L878.2 676.6L878.3 678.2L878.4 679.8L878.5 681.4L878.5 683.0L878.6 684.6L878.7 686.2L878.8 687.8L878.9 689.4L879.0 691.0L879.1 692.6L879.2 694.1L879.3 695.7L879.4 697.3L879.5 698.8L879.5 700.4L879.6 701.9L879.7 703.5L879.8 705.0L879.9 706.6L880.0 708.1L880.1 709.6L880.2 711.1L880.3 712.6L880.3 714.1L880.4 715.6L880.5 717.1L880.6 718.5L880.7 720.0L880.8 721.6L880.9 723.1L881.0 724.7L881.1 726.2L881.2 727.8L881.3 729.4L881.4 730.9L881.5 732.5L881.5 734.0L881.6 735.6L881.7 737.1L881.8 738.7L881.9 740.2L882.0 741.8L882.1 743.3L882.2 744.9L882.3 746.4L882.4 748.0L882.5 749.5L882.6 751.1L882.7 752.6L882.8 754.1L882.9 755.7L883.0 757.2L883.1 758.7L883.2 760.3L883.2 761.8L883.3 763.3L883.4 764.9L883.5 766.4L883.6 767.9L883.7 769.4L883.8 771.0L883.9 772.5L884.0 774.0L884.1 775.5L884.2 777.0L884.3 778.5L884.4 780.1L884.5 781.6L884.6 783.1L884.7 784.6L884.8 786.1L884.9 787.6L884.9 789.1L885.0 790.6L885.1 792.1L885.2 793.6L885.3 795.1L885.4 796.5L885.5 798.0L885.6 799.5L885.7 801.0L885.8 802.5L885.9 803.9L886.0 805.4L886.1 806.9L886.2 808.4L886.3 809.8L886.4 811.3L886.4 812.8L886.5 814.2L886.6 815.7L886.7 817.1L886.8 818.6L886.9 820.0L887.0 821.5L887.1 822.9L887.2 824.3L887.3 825.8L887.4 827.2L887.5 828.7L887.6 830.1L887.7 831.5L887.7 832.9L887.8 834.4L887.9 835.8L888.0 837.2L888.1 838.6L888.2 840.0L888.3 841.6L888.4 843.2L888.5 844.8L888.6 846.4L888.7 848.1L888.8 849.7L888.9 851.3L889.0 852.9L889.1 854.5L889.2 856.1L889.3 857.8L889.4 859.4L889.5 861.0L889.6 862.6L889.7 864.2L889.9 865.8L890.0 867.4L890.1 869.0L890.2 870.7L890.3 872.3L890.4 873.9L890.5 875.5L890.6 877.1L890.7 878.7L890.8 880.2L890.9 881.8L891.0 883.4L891.1 885.0L891.2 886.6L891.3 888.1L891.4 889.7L891.5 891.3L891.6 892.8L891.7 894.4L891.8 895.9L891.9 897.5L892.0 899.0L892.1 900.5L892.2 902.1L892.3 903.6L892.4 905.1L892.5 906.6L892.6 908.1L892.7 909.6L892.8 911.1L892.9 912.5L893.0 914.0L893.1 915.5L893.2 916.9L893.3 918.4L893.4 919.8L893.5 921.2L893.6 922.6L893.7 924.0L893.8 925.4L893.9 926.8L894.0 928.2L894.1 929.5L894.2 930.9L894.3 932.2L894.4 933.6L894.5 934.9L894.6 936.2L894.7 937.5L894.8 938.8L894.9 940.0L895.0 941.3L895.1 942.5L895.2 943.8L895.3 945.0L895.5 947.0L895.6 948.9L895.8 950.8L896.0 952.7L896.1 954.6L896.3 956.4L896.5 958.2L896.6 960.0L896.8 961.7L897.0 963.5L897.1 965.2L897.3 966.9L897.5 968.6L897.6 970.2L897.8 971.8L898.0 973.4L898.1 975.0L898.3 976.6L898.5 978.1L898.6 979.6L898.8 981.1L899.0 982.6L899.1 984.1L899.3 985.5L899.5 987.0L899.6 988.4L899.8 989.8L900.0 991.1L900.1 992.5L900.3 993.8L900.5 995.2L900.6 996.5L900.8 997.8L901.0 999.1L901.1 1000.3L901.3 1001.6L901.4 1002.8L901.6 1004.0L901.8 1005.3L901.9 1006.5L902.1 1007.7L902.2 1008.8L902.4 1010.0L902.7 1012.1L903.0 1014.2L903.3 1016.3L903.6 1018.2L903.9 1020.2L904.2 1022.0L904.5 1023.8L904.8 1025.6L905.1 1027.3L905.4 1028.9L905.7 1030.5L906.0 1032.0L906.3 1033.5L906.6 1034.9L906.9 1036.2L907.2 1037.5L907.4 1038.8L907.7 1039.9L908.0 1041.1L908.2 1042.1L908.4 1043.1L908.7 1044.1L908.9 1045.0L910.1 1048.5L911.1 1049.7L894.3 1049.7L893.3 1048.5L892.1 1045.0L891.9 1044.1L891.6 1043.1L891.4 1042.1L891.2 1041.1L890.9 1039.9L890.6 1038.8L890.4 1037.5L890.1 1036.2L889.8 1034.9L889.5 1033.5L889.2 1032.0L888.9 1030.5L888.6 1028.9L888.3 1027.3L888.0 1025.6L887.7 1023.8L887.4 1022.0L887.1 1020.2L886.8 1018.2L886.5 1016.3L886.2 1014.2L885.9 1012.1L885.6 1010.0L885.4 1008.8L885.3 1007.7L885.1 1006.5L885.0 1005.3L884.8 1004.0L884.6 1002.8L884.5 1001.6L884.3 1000.3L884.2 999.1L884.0 997.8L883.8 996.5L883.7 995.2L883.5 993.8L883.3 992.5L883.2 991.1L883.0 989.8L882.8 988.4L882.7 987.0L882.5 985.5L882.3 984.1L882.2 982.6L882.0 981.1L881.8 979.6L881.7 978.1L881.5 976.6L881.3 975.0L881.2 973.4L881.0 971.8L880.8 970.2L880.7 968.6L880.5 966.9L880.3 965.2L880.2 963.5L880.0 961.7L879.8 960.0L879.7 958.2L879.5 956.4L879.3 954.6L879.2 952.7L879.0 950.8L878.8 948.9L878.7 947.0L878.5 945.0L878.4 943.8L878.3 942.5L878.2 941.3L878.1 940.0L878.0 938.8L877.9 937.5L877.8 936.2L877.7 934.9L877.6 933.6L877.5 932.2L877.4 930.9L877.3 929.5L877.2 928.2L877.1 926.8L877.0 925.4L876.9 924.0L876.8 922.6L876.7 921.2L876.6 919.8L876.5 918.4L876.4 916.9L876.3 915.5L876.2 914.0L876.1 912.5L876.0 911.1L875.9 909.6L875.8 908.1L875.7 906.6L875.6 905.1L875.5 903.6L875.4 902.1L875.3 900.5L875.2 899.0L875.1 897.5L875.0 895.9L874.9 894.4L874.8 892.8L874.7 891.3L874.6 889.7L874.5 888.1L874.4 886.6L874.3 885.0L874.2 883.4L874.1 881.8L874.0 880.2L873.9 878.7L873.8 877.1L873.7 875.5L873.6 873.9L873.5 872.3L873.4 870.7L873.3 869.0L873.2 867.4L873.1 865.8L872.9 864.2L872.8 862.6L872.7 861.0L872.6 859.4L872.5 857.8L872.4 856.1L872.3 854.5L872.2 852.9L872.1 851.3L872.0 849.7L871.9 848.1L871.8 846.4L871.7 844.8L871.6 843.2L871.5 841.6L871.4 840.0L871.3 838.6L871.2 837.2L871.1 835.8L871.0 834.4L870.9 832.9L870.9 831.5L870.8 830.1L870.7 828.7L870.6 827.2L870.5 825.8L870.4 824.3L870.3 822.9L870.2 821.5L870.1 820.0L870.0 818.6L869.9 817.1L869.8 815.7L869.7 814.2L869.6 812.8L869.6 811.3L869.5 809.8L869.4 808.4L869.3 806.9L869.2 805.4L869.1 803.9L869.0 802.5L868.9 801.0L868.8 799.5L868.7 798.0L868.6 796.5L868.5 795.1L868.4 793.6L868.3 792.1L868.2 790.6L868.1 789.1L868.1 787.6L868.0 786.1L867.9 784.6L867.8 783.1L867.7 781.6L867.6 780.1L867.5 778.5L867.4 777.0L867.3 775.5L867.2 774.0L867.1 772.5L867.0 771.0L866.9 769.4L866.8 767.9L866.7 766.4L866.6 764.9L866.5 763.3L866.4 761.8L866.4 760.3L866.3 758.7L866.2 757.2L866.1 755.7L866.0 754.1L865.9 752.6L865.8 751.1L865.7 749.5L865.6 748.0L865.5 746.4L865.4 744.9L865.3 743.3L865.2 741.8L865.1 740.2L865.0 738.7L864.9 737.1L864.8 735.6L864.7 734.0L864.7 732.5L864.6 730.9L864.5 729.4L864.4 727.8L864.3 726.2L864.2 724.7L864.1 723.1L864.0 721.6L863.9 720.0L863.8 718.5L863.7 717.1L863.6 715.6L863.5 714.1L863.5 712.6L863.4 711.1L863.3 709.6L863.2 708.1L863.1 706.6L863.0 705.0L862.9 703.5L862.8 701.9L862.7 700.4L862.7 698.8L862.6 697.3L862.5 695.7L862.4 694.1L862.3 692.6L862.2 691.0L862.1 689.4L862.0 687.8L861.9 686.2L861.8 684.6L861.7 683.0L861.7 681.4L861.6 679.8L861.5 678.2L861.4 676.6L861.3 675.0L861.2 673.4L861.1 671.8L861.0 670.1L860.9 668.5L860.8 666.9L860.7 665.3L860.6 663.7L860.6 662.1L860.5 660.5L860.4 658.9L860.3 657.2L860.2 655.6L860.1 654.0L860.0 652.4L859.9 650.8L859.8 649.2L859.7 647.7L859.7 646.1L859.6 644.5L859.5 642.9L859.4 641.3L859.3 639.7L859.2 638.2L859.1 636.6L859.0 635.1L858.9 633.5L858.9 632.0L858.8 630.4L858.7 628.9L858.6 627.4L858.5 625.9L858.4 624.4L858.3 622.9L858.2 621.4L858.2 619.9L858.1 618.4L858.0 616.9L857.9 615.5L857.8 614.0L857.7 612.6L857.7 611.2L857.6 609.8L857.5 608.4L857.4 607.0L857.3 605.6L857.3 604.2L857.2 602.9L857.1 601.5L857.0 600.2L856.9 598.9L856.9 597.6L856.8 596.3L856.7 595.0L856.6 593.7L856.6 592.5L856.5 591.2L856.4 590.0L856.3 588.0L856.2 586.0L856.0 584.1L855.9 582.2L855.8 580.3L855.7 578.4L855.6 576.5L855.4 574.7L855.3 572.9L855.2 571.1L855.1 569.3L855.0 567.6L854.9 565.9L854.7 564.2L854.6 562.5L854.5 560.8L854.4 559.2L854.3 557.6L854.2 556.0L854.1 554.4L854.0 552.8L853.8 551.3L853.7 549.7L853.6 548.2L853.5 546.7L853.4 545.2L853.3 543.7L853.2 542.3L853.1 540.9L853.0 539.4L852.9 538.0L852.8 536.6L852.7 535.2L852.6 533.9L852.5 532.5L852.4 531.2L852.3 529.8L852.3 528.5L852.2 527.2L852.1 525.9L852.0 524.6L851.9 523.3L851.8 522.1L851.7 520.8L851.6 519.5L851.6 518.3L851.5 517.1L851.4 515.8L851.3 514.6L851.2 513.4L851.2 512.2L851.1 511.0L851.0 509.0L850.9 507.0L850.8 505.0L850.7 503.2L850.6 501.4L850.5 499.6L850.4 497.9L850.3 496.2L850.2 494.5L850.2 492.9L850.1 491.4L850.1 489.9L850.0 488.4L849.9 486.9L849.9 485.5L849.8 484.1L849.8 482.7L849.7 481.3L849.7 479.9L849.6 478.6L849.5 477.3L849.5 476.0L849.4 474.7L849.3 473.4L849.3 472.1L849.2 470.8L849.1 469.5L849.0 468.1L848.9 466.8L848.8 465.5L848.7 463.8L848.5 462.0L848.3 460.2L848.1 458.4L847.9 456.6L847.7 454.8L847.5 453.1L847.3 451.3L847.1 449.6L846.9 447.9L846.7 446.2L846.4 444.6L846.2 443.0L846.0 441.5L845.8 440.0L845.6 438.6L845.4 437.3L845.3 436.0L845.1 434.8L845.0 433.7L844.8 432.7L844.7 431.8L844.6 431.0L844.4 430.2L844.1 429.1L843.7 427.9L843.4 426.6L842.9 425.1L842.5 423.5L842.0 421.9L841.6 420.2L841.1 418.5L840.6 416.8L840.1 415.1L839.6 413.5L839.1 412.0L838.6 410.5L838.0 408.9L837.5 407.2L836.9 405.5L836.2 403.8L835.6 402.1L835.3 400.4L835.6 398.8L836.0 397.3L836.3 395.9L836.6 394.7L836.9 393.6L837.1 392.8ZM902.7 1041.6L903.4 1041.7L904.0 1041.9L904.9 1041.5L906.2 1040.9L907.7 1040.3L909.4 1039.5L911.1 1038.8L912.8 1038.0L914.3 1037.4L915.6 1036.8L916.5 1036.4L916.5 1052.6L915.6 1053.0L914.3 1053.6L912.8 1054.2L911.1 1055.0L909.4 1055.7L907.7 1056.5L906.2 1057.1L904.9 1057.7L904.0 1058.1L903.4 1057.9L902.7 1057.8ZM908.1 1044.5L908.3 1043.7L908.6 1042.7L909.0 1041.5L909.3 1040.2L909.7 1038.8L910.2 1037.3L910.6 1035.8L911.1 1034.1L911.6 1032.4L912.1 1030.7L912.6 1028.9L913.1 1027.1L913.6 1025.4L914.1 1023.7L914.6 1022.0L915.0 1020.6L915.4 1019.3L915.8 1017.9L916.1 1016.5L916.5 1015.2L916.9 1013.8L917.3 1012.4L917.7 1011.0L918.1 1009.6L918.5 1008.1L918.9 1006.6L919.3 1005.1L919.7 1003.5L920.2 1001.9L920.6 1000.3L921.1 998.6L921.6 996.8L922.1 995.0L922.4 993.8L922.8 992.5L923.2 991.2L923.5 989.8L923.9 988.5L924.3 987.1L924.7 985.6L925.1 984.2L925.5 982.8L925.9 981.3L926.3 979.8L926.7 978.3L927.2 976.8L927.6 975.3L928.0 973.7L928.4 972.2L928.8 970.7L929.3 969.1L929.7 967.6L930.1 966.0L930.5 964.5L930.9 963.0L931.3 961.4L931.7 959.9L932.1 958.4L932.5 956.9L932.9 955.4L933.3 953.9L933.7 952.4L934.0 950.9L934.4 949.4L934.8 947.9L935.1 946.4L935.5 944.8L935.9 943.3L936.2 941.8L936.6 940.3L936.9 938.7L937.3 937.2L937.6 935.7L938.0 934.2L938.3 932.6L938.7 931.1L939.0 929.6L939.4 928.1L939.8 926.6L940.1 925.1L940.5 923.6L940.8 922.2L941.2 920.7L941.5 919.3L941.9 917.8L942.2 916.4L942.6 915.0L943.0 913.4L943.4 911.9L943.8 910.4L944.2 908.9L944.6 907.4L945.0 906.0L945.4 904.5L945.8 903.1L946.1 901.7L946.5 900.3L946.9 898.9L947.3 897.5L947.7 896.1L948.1 894.7L948.5 893.3L948.9 891.8L949.3 890.4L949.7 889.0L950.2 887.5L950.6 886.1L951.0 884.6L951.5 883.1L951.9 881.5L952.4 880.0L952.8 878.6L953.2 877.2L953.7 875.9L954.1 874.5L954.5 873.1L955.0 871.7L955.4 870.3L955.9 868.9L956.3 867.6L956.8 866.2L957.3 864.7L957.7 863.3L958.2 861.9L958.7 860.5L959.1 859.0L959.6 857.5L960.1 856.1L960.6 854.6L961.1 853.0L961.6 851.5L962.1 849.9L962.6 848.3L963.1 846.7L963.6 845.1L964.1 843.4L964.6 841.7L965.1 840.0L965.5 838.7L965.9 837.4L966.2 836.1L966.6 834.7L967.0 833.3L967.4 831.9L967.8 830.5L968.1 829.1L968.5 827.6L968.9 826.2L969.3 824.7L969.7 823.2L970.1 821.7L970.5 820.2L970.9 818.7L971.3 817.1L971.7 815.6L972.1 814.1L972.5 812.5L972.9 811.0L973.3 809.5L973.7 807.9L974.1 806.4L974.5 804.9L974.9 803.3L975.4 801.8L975.8 800.3L976.2 798.8L976.6 797.3L977.1 795.9L977.5 794.4L977.9 793.0L978.3 791.5L978.8 790.1L979.2 788.7L979.7 787.3L980.1 786.0L980.6 784.5L981.1 782.9L981.6 781.4L982.2 779.9L982.7 778.5L983.2 777.0L983.7 775.6L984.3 774.1L984.8 772.7L985.3 771.3L985.9 769.9L986.4 768.5L986.9 767.1L987.5 765.7L988.0 764.3L988.6 762.9L989.1 761.6L989.7 760.2L990.3 758.8L990.8 757.5L991.4 756.1L992.0 754.8L992.5 753.4L993.1 752.0L993.7 750.7L994.3 749.3L994.9 747.9L995.5 746.6L996.1 745.2L996.7 743.8L997.3 742.4L997.9 741.0L998.5 739.6L999.1 738.3L999.7 736.9L1000.3 735.6L1001.0 734.2L1001.6 732.8L1002.2 731.5L1002.9 730.1L1003.5 728.8L1004.2 727.4L1004.9 726.0L1005.5 724.7L1006.2 723.3L1006.8 722.0L1007.5 720.6L1008.2 719.2L1008.9 717.9L1009.5 716.5L1010.2 715.2L1010.9 713.8L1011.6 712.4L1012.2 711.1L1012.9 709.7L1013.6 708.3L1014.3 707.0L1014.9 705.6L1015.6 704.2L1016.3 702.9L1017.0 701.5L1017.6 700.1L1018.3 698.8L1018.9 697.4L1019.6 696.0L1020.3 694.6L1020.9 693.2L1021.6 691.9L1022.2 690.5L1022.9 689.1L1023.5 687.7L1024.2 686.3L1024.8 684.9L1025.5 683.5L1026.1 682.1L1026.7 680.7L1027.4 679.3L1028.0 677.9L1028.7 676.5L1029.3 675.1L1030.0 673.7L1030.6 672.3L1031.3 670.9L1031.9 669.5L1032.6 668.1L1033.2 666.7L1033.9 665.3L1034.5 663.9L1035.2 662.5L1035.8 661.1L1036.5 659.7L1037.1 658.3L1037.8 656.9L1038.4 655.5L1039.1 654.1L1039.8 652.8L1040.4 651.4L1041.1 650.0L1041.8 648.6L1042.4 647.2L1043.1 645.8L1043.8 644.4L1044.5 643.0L1045.2 641.6L1045.9 640.1L1046.6 638.7L1047.3 637.2L1048.0 635.8L1048.7 634.4L1049.4 632.9L1050.1 631.5L1050.8 630.1L1051.5 628.6L1052.2 627.2L1052.9 625.8L1053.6 624.4L1054.2 623.0L1054.9 621.6L1055.6 620.2L1056.3 618.9L1057.0 617.5L1057.7 616.2L1058.4 614.8L1059.0 613.5L1059.7 612.3L1060.4 611.0L1061.0 609.7L1061.7 608.5L1062.3 607.3L1063.0 606.1L1063.6 605.0L1064.5 603.4L1065.4 601.8L1066.3 600.3L1067.1 598.8L1068.0 597.4L1068.9 595.9L1069.7 594.6L1070.5 593.2L1071.4 591.9L1072.2 590.6L1073.0 589.3L1073.9 588.0L1074.7 586.8L1075.5 585.6L1076.3 584.4L1077.1 583.2L1077.9 582.0L1078.7 580.8L1079.5 579.6L1080.2 578.5L1081.0 577.3L1081.8 576.2L1082.6 575.0L1083.5 573.6L1084.5 572.3L1085.4 570.9L1086.3 569.7L1087.1 568.4L1088.0 567.1L1088.9 565.9L1089.7 564.7L1090.6 563.5L1091.4 562.3L1092.3 561.2L1093.2 560.0L1094.0 558.8L1094.9 557.6L1095.8 556.4L1096.7 555.2L1097.7 554.0L1098.6 552.8L1099.6 551.5L1100.5 550.3L1101.4 549.2L1102.3 548.0L1103.2 546.8L1104.2 545.6L1105.1 544.4L1106.1 543.2L1107.0 541.9L1108.0 540.7L1109.0 539.5L1109.9 538.3L1110.9 537.1L1111.9 535.9L1112.9 534.7L1113.9 533.5L1114.9 532.3L1115.9 531.1L1116.9 530.0L1118.0 528.8L1119.0 527.7L1120.0 526.6L1121.1 525.5L1137.9 525.5L1136.8 526.6L1135.8 527.7L1134.8 528.8L1133.7 530.0L1132.7 531.1L1131.7 532.3L1130.7 533.5L1129.7 534.7L1128.7 535.9L1127.7 537.1L1126.7 538.3L1125.8 539.5L1124.8 540.7L1123.8 541.9L1122.9 543.2L1121.9 544.4L1121.0 545.6L1120.0 546.8L1119.1 548.0L1118.2 549.2L1117.3 550.3L1116.4 551.5L1115.4 552.8L1114.5 554.0L1113.5 555.2L1112.6 556.4L1111.7 557.6L1110.8 558.8L1110.0 560.0L1109.1 561.2L1108.2 562.3L1107.4 563.5L1106.5 564.7L1105.7 565.9L1104.8 567.1L1103.9 568.4L1103.1 569.7L1102.2 570.9L1101.3 572.3L1100.3 573.6L1099.4 575.0L1098.6 576.2L1097.8 577.3L1097.0 578.5L1096.3 579.6L1095.5 580.8L1094.7 582.0L1093.9 583.2L1093.1 584.4L1092.3 585.6L1091.5 586.8L1090.7 588.0L1089.8 589.3L1089.0 590.6L1088.2 591.9L1087.3 593.2L1086.5 594.6L1085.7 595.9L1084.8 597.4L1083.9 598.8L1083.1 600.3L1082.2 601.8L1081.3 603.4L1080.4 605.0L1079.8 606.1L1079.1 607.3L1078.5 608.5L1077.8 609.7L1077.2 611.0L1076.5 612.3L1075.8 613.5L1075.2 614.8L1074.5 616.2L1073.8 617.5L1073.1 618.9L1072.4 620.2L1071.7 621.6L1071.0 623.0L1070.4 624.4L1069.7 625.8L1069.0 627.2L1068.3 628.6L1067.6 630.1L1066.9 631.5L1066.2 632.9L1065.5 634.4L1064.8 635.8L1064.1 637.2L1063.4 638.7L1062.7 640.1L1062.0 641.6L1061.3 643.0L1060.6 644.4L1059.9 645.8L1059.2 647.2L1058.6 648.6L1057.9 650.0L1057.2 651.4L1056.6 652.8L1055.9 654.1L1055.2 655.5L1054.6 656.9L1053.9 658.3L1053.3 659.7L1052.6 661.1L1052.0 662.5L1051.3 663.9L1050.7 665.3L1050.0 666.7L1049.4 668.1L1048.7 669.5L1048.1 670.9L1047.4 672.3L1046.8 673.7L1046.1 675.1L1045.5 676.5L1044.8 677.9L1044.2 679.3L1043.5 680.7L1042.9 682.1L1042.3 683.5L1041.6 684.9L1041.0 686.3L1040.3 687.7L1039.7 689.1L1039.0 690.5L1038.4 691.9L1037.7 693.2L1037.1 694.6L1036.4 696.0L1035.7 697.4L1035.1 698.8L1034.4 700.1L1033.8 701.5L1033.1 702.9L1032.4 704.2L1031.7 705.6L1031.1 707.0L1030.4 708.3L1029.7 709.7L1029.0 711.1L1028.4 712.4L1027.7 713.8L1027.0 715.2L1026.3 716.5L1025.7 717.9L1025.0 719.2L1024.3 720.6L1023.6 722.0L1023.0 723.3L1022.3 724.7L1021.7 726.0L1021.0 727.4L1020.3 728.8L1019.7 730.1L1019.0 731.5L1018.4 732.8L1017.8 734.2L1017.1 735.6L1016.5 736.9L1015.9 738.3L1015.3 739.6L1014.7 741.0L1014.1 742.4L1013.5 743.8L1012.9 745.2L1012.3 746.6L1011.7 747.9L1011.1 749.3L1010.5 750.7L1009.9 752.0L1009.3 753.4L1008.8 754.8L1008.2 756.1L1007.6 757.5L1007.1 758.8L1006.5 760.2L1005.9 761.6L1005.4 762.9L1004.8 764.3L1004.3 765.7L1003.7 767.1L1003.2 768.5L1002.7 769.9L1002.1 771.3L1001.6 772.7L1001.1 774.1L1000.5 775.6L1000.0 777.0L999.5 778.5L999.0 779.9L998.4 781.4L997.9 782.9L997.4 784.5L996.9 786.0L996.5 787.3L996.0 788.7L995.6 790.1L995.1 791.5L994.7 793.0L994.3 794.4L993.9 795.9L993.4 797.3L993.0 798.8L992.6 800.3L992.2 801.8L991.7 803.3L991.3 804.9L990.9 806.4L990.5 807.9L990.1 809.5L989.7 811.0L989.3 812.5L988.9 814.1L988.5 815.6L988.1 817.1L987.7 818.7L987.3 820.2L986.9 821.7L986.5 823.2L986.1 824.7L985.7 826.2L985.3 827.6L984.9 829.1L984.6 830.5L984.2 831.9L983.8 833.3L983.4 834.7L983.0 836.1L982.7 837.4L982.3 838.7L981.9 840.0L981.4 841.7L980.9 843.4L980.4 845.1L979.9 846.7L979.4 848.3L978.9 849.9L978.4 851.5L977.9 853.0L977.4 854.6L976.9 856.1L976.4 857.5L975.9 859.0L975.5 860.5L975.0 861.9L974.5 863.3L974.1 864.7L973.6 866.2L973.1 867.6L972.7 868.9L972.2 870.3L971.8 871.7L971.3 873.1L970.9 874.5L970.5 875.9L970.0 877.2L969.6 878.6L969.2 880.0L968.7 881.5L968.3 883.1L967.8 884.6L967.4 886.1L967.0 887.5L966.5 889.0L966.1 890.4L965.7 891.8L965.3 893.3L964.9 894.7L964.5 896.1L964.1 897.5L963.7 898.9L963.3 900.3L962.9 901.7L962.6 903.1L962.2 904.5L961.8 906.0L961.4 907.4L961.0 908.9L960.6 910.4L960.2 911.9L959.8 913.4L959.4 915.0L959.0 916.4L958.7 917.8L958.3 919.3L958.0 920.7L957.6 922.2L957.3 923.6L956.9 925.1L956.6 926.6L956.2 928.1L955.8 929.6L955.5 931.1L955.1 932.6L954.8 934.2L954.4 935.7L954.1 937.2L953.7 938.7L953.4 940.3L953.0 941.8L952.7 943.3L952.3 944.8L951.9 946.4L951.6 947.9L951.2 949.4L950.8 950.9L950.5 952.4L950.1 953.9L949.7 955.4L949.3 956.9L948.9 958.4L948.5 959.9L948.1 961.4L947.7 963.0L947.3 964.5L946.9 966.0L946.5 967.6L946.1 969.1L945.6 970.7L945.2 972.2L944.8 973.7L944.4 975.3L944.0 976.8L943.5 978.3L943.1 979.8L942.7 981.3L942.3 982.8L941.9 984.2L941.5 985.6L941.1 987.1L940.7 988.5L940.3 989.8L940.0 991.2L939.6 992.5L939.2 993.8L938.9 995.0L938.4 996.8L937.9 998.6L937.4 1000.3L937.0 1001.9L936.5 1003.5L936.1 1005.1L935.7 1006.6L935.3 1008.1L934.9 1009.6L934.5 1011.0L934.1 1012.4L933.7 1013.8L933.3 1015.2L932.9 1016.5L932.6 1017.9L932.2 1019.3L931.8 1020.6L931.4 1022.0L930.9 1023.7L930.4 1025.4L929.9 1027.1L929.4 1028.9L928.9 1030.7L928.4 1032.4L927.9 1034.1L927.4 1035.8L927.0 1037.3L926.5 1038.8L926.1 1040.2L925.8 1041.5L925.4 1042.7L925.1 1043.7L924.9 1044.5ZM1129.5 517.4L1130.6 516.2L1131.7 515.1L1132.8 514.0L1133.9 512.9L1135.0 511.8L1136.1 510.8L1137.3 509.7L1138.4 508.6L1139.6 507.6L1140.7 506.5L1141.9 505.5L1143.0 504.5L1144.2 503.5L1145.3 502.4L1146.4 501.4L1147.6 500.4L1148.7 499.4L1149.9 498.4L1151.0 497.4L1152.2 496.3L1153.4 495.3L1154.6 494.3L1155.8 493.2L1156.9 492.2L1158.1 491.1L1159.3 490.1L1160.5 489.1L1161.7 488.1L1162.9 487.1L1164.1 486.1L1165.3 485.1L1166.5 484.1L1167.6 483.1L1168.8 482.2L1170.0 481.2L1171.2 480.3L1172.4 479.3L1173.6 478.4L1174.9 477.4L1176.1 476.5L1177.4 475.5L1178.6 474.6L1179.9 473.7L1181.2 472.8L1182.4 471.9L1183.7 471.0L1184.9 470.1L1186.2 469.2L1187.5 468.3L1188.7 467.5L1190.0 466.6L1191.3 465.8L1192.5 464.9L1193.8 464.1L1195.0 463.2L1196.3 462.4L1197.6 461.5L1199.0 460.7L1200.3 459.8L1201.6 458.9L1203.0 458.1L1204.3 457.3L1205.6 456.4L1206.9 455.6L1208.3 454.8L1209.6 454.0L1210.9 453.2L1212.3 452.4L1213.6 451.6L1214.9 450.8L1216.2 450.0L1217.6 449.2L1218.9 448.4L1220.2 447.6L1221.6 446.8L1222.9 446.0L1224.3 445.2L1225.7 444.5L1227.0 443.7L1228.4 442.9L1229.8 442.1L1231.1 441.3L1232.5 440.6L1233.8 439.8L1235.2 439.1L1236.5 438.4L1237.8 437.7L1239.0 437.0L1240.3 436.3L1241.5 435.6L1243.0 434.8L1244.5 434.0L1245.8 433.3L1247.1 432.6L1248.4 431.9L1249.7 431.3L1250.9 430.6L1252.2 429.9L1253.6 429.2L1255.0 428.5L1256.6 427.7L1258.2 426.8L1260.0 425.9L1261.1 425.3L1262.2 424.7L1263.4 424.1L1264.6 423.4L1265.8 422.8L1267.0 422.1L1268.2 421.4L1269.5 420.7L1270.8 420.0L1272.1 419.3L1273.4 418.5L1274.8 417.8L1276.2 417.0L1277.6 416.3L1279.0 415.5L1280.5 414.7L1282.0 413.9L1283.5 413.1L1285.1 412.3L1286.7 411.5L1288.3 410.7L1290.0 409.9L1291.2 409.3L1292.4 408.8L1293.6 408.2L1294.8 407.6L1296.1 407.0L1297.4 406.3L1298.7 405.7L1300.0 405.1L1301.3 404.5L1302.6 403.8L1304.0 403.2L1305.4 402.5L1306.8 401.9L1308.2 401.2L1309.6 400.6L1311.0 399.9L1312.4 399.3L1313.9 398.6L1315.3 398.0L1316.7 397.3L1318.2 396.7L1319.6 396.0L1321.1 395.4L1322.5 394.7L1324.0 394.1L1325.4 393.5L1326.9 392.9L1328.3 392.3L1329.7 391.7L1331.2 391.1L1332.6 390.5L1334.0 389.9L1335.4 389.3L1336.8 388.8L1338.2 388.2L1339.6 387.7L1341.1 387.1L1342.5 386.6L1343.9 386.0L1345.3 385.5L1346.7 385.0L1348.2 384.4L1349.6 383.9L1351.0 383.4L1352.4 382.9L1353.9 382.4L1355.3 381.8L1356.8 381.3L1358.2 380.8L1359.6 380.3L1361.1 379.8L1362.5 379.3L1364.0 378.8L1365.4 378.3L1366.9 377.8L1368.3 377.3L1369.8 376.8L1371.2 376.4L1372.7 375.9L1374.1 375.4L1375.6 374.9L1377.1 374.4L1378.5 373.9L1380.0 373.4L1381.4 372.9L1382.9 372.4L1384.3 372.0L1385.7 371.5L1387.2 371.0L1388.6 370.6L1390.1 370.1L1391.5 369.6L1393.0 369.2L1394.4 368.7L1395.9 368.2L1397.3 367.8L1398.8 367.3L1400.3 366.9L1401.7 366.4L1403.2 365.9L1404.7 365.5L1406.1 365.0L1407.6 364.6L1409.1 364.1L1410.5 363.7L1412.0 363.2L1413.5 362.8L1414.9 362.3L1416.4 361.9L1417.8 361.5L1419.3 361.0L1420.8 360.6L1422.2 360.1L1423.7 359.7L1425.1 359.3L1426.6 358.8L1428.0 358.4L1429.5 358.0L1431.0 357.5L1432.4 357.1L1433.9 356.6L1435.4 356.2L1436.9 355.8L1438.3 355.3L1439.8 354.9L1441.3 354.5L1442.8 354.0L1444.2 353.6L1445.7 353.2L1447.2 352.8L1448.6 352.4L1450.1 351.9L1451.6 351.5L1453.0 351.1L1454.5 350.7L1456.0 350.3L1457.4 349.8L1458.9 349.4L1460.3 349.0L1461.8 348.6L1463.3 348.2L1464.7 347.8L1466.2 347.4L1467.7 347.0L1469.1 346.5L1470.6 346.1L1472.1 345.7L1473.5 345.3L1475.0 344.9L1476.5 344.5L1477.9 344.1L1479.4 343.7L1480.9 343.3L1482.3 342.9L1483.8 342.4L1485.3 342.0L1486.7 341.6L1488.2 341.2L1489.7 340.8L1491.1 340.4L1492.6 340.0L1494.0 339.6L1495.5 339.2L1497.0 338.8L1498.4 338.4L1499.9 338.0L1501.4 337.6L1502.8 337.2L1504.3 336.8L1505.8 336.4L1507.2 336.0L1508.7 335.6L1510.2 335.2L1511.7 334.8L1513.1 334.5L1514.6 334.1L1516.1 333.7L1517.6 333.3L1519.0 332.9L1520.5 332.5L1522.0 332.1L1523.4 331.7L1524.9 331.3L1526.3 331.0L1527.8 330.6L1529.2 330.2L1530.6 329.8L1532.1 329.5L1533.5 329.1L1535.0 328.7L1536.4 328.4L1537.9 328.0L1539.3 327.6L1540.7 327.3L1542.2 326.9L1543.6 326.5L1545.1 326.2L1546.5 325.8L1548.0 325.4L1549.4 325.1L1550.9 324.7L1552.4 324.3L1553.8 324.0L1555.3 323.6L1556.7 323.2L1558.2 322.9L1559.7 322.5L1561.1 322.1L1562.6 321.8L1564.1 321.4L1565.6 321.0L1567.0 320.6L1568.5 320.3L1570.0 319.9L1571.4 319.5L1572.8 319.2L1574.2 318.8L1575.5 318.5L1576.8 318.1L1578.1 317.8L1579.4 317.4L1580.7 317.1L1582.0 316.8L1583.2 316.4L1584.5 316.1L1585.7 315.8L1587.0 315.4L1588.3 315.1L1589.5 314.7L1590.8 314.4L1592.1 314.0L1593.5 313.7L1594.8 313.3L1596.2 313.0L1597.6 312.6L1599.0 312.3L1600.5 311.9L1602.0 311.5L1603.6 311.1L1605.2 310.8L1606.8 310.4L1608.5 310.0L1610.3 309.6L1612.1 309.1L1614.0 308.7L1615.9 308.3L1617.9 307.9L1620.0 307.4L1621.2 307.2L1622.3 306.9L1623.5 306.6L1624.7 306.4L1626.0 306.1L1627.2 305.9L1628.5 305.6L1629.8 305.3L1631.1 305.0L1632.4 304.8L1633.8 304.5L1635.2 304.2L1636.5 303.9L1637.9 303.6L1639.3 303.3L1640.8 303.0L1642.2 302.7L1643.7 302.4L1645.1 302.2L1646.6 301.9L1648.1 301.5L1649.6 301.2L1651.1 300.9L1652.6 300.6L1654.1 300.3L1655.7 300.0L1657.2 299.7L1658.8 299.4L1660.3 299.1L1661.9 298.8L1663.5 298.5L1665.0 298.1L1666.6 297.8L1668.2 297.5L1669.8 297.2L1671.4 296.9L1673.0 296.6L1674.6 296.3L1676.2 296.0L1677.8 295.7L1679.4 295.3L1681.0 295.0L1682.6 294.7L1684.3 294.4L1685.9 294.1L1687.5 293.8L1689.1 293.5L1690.7 293.2L1692.3 292.9L1693.9 292.6L1695.4 292.3L1697.0 292.0L1698.6 291.7L1700.2 291.4L1701.8 291.1L1703.3 290.8L1704.9 290.6L1706.4 290.3L1707.9 290.0L1709.5 289.7L1711.0 289.4L1712.5 289.2L1714.0 288.9L1715.5 288.6L1717.0 288.4L1718.5 288.1L1720.0 287.8L1721.5 287.6L1722.9 287.3L1724.4 287.1L1725.9 286.8L1727.4 286.5L1728.9 286.3L1730.4 286.0L1731.9 285.8L1733.4 285.5L1734.9 285.3L1736.4 285.0L1737.8 284.7L1739.3 284.5L1740.8 284.2L1742.3 284.0L1743.8 283.7L1745.3 283.5L1746.8 283.2L1748.3 283.0L1749.8 282.8L1751.3 282.5L1752.7 282.3L1754.2 282.0L1755.7 281.8L1757.2 281.5L1758.7 281.3L1760.2 281.1L1761.7 280.8L1763.2 280.6L1764.7 280.3L1766.2 280.1L1767.6 279.9L1769.1 279.6L1770.6 279.4L1772.1 279.2L1773.6 278.9L1775.1 278.7L1776.6 278.5L1778.1 278.2L1779.6 278.0L1781.1 277.8L1782.6 277.6L1784.1 277.3L1785.5 277.1L1787.0 276.9L1788.5 276.7L1790.0 276.5L1791.5 276.2L1793.0 276.0L1794.5 275.8L1796.0 275.6L1797.5 275.4L1799.0 275.2L1800.5 274.9L1802.0 274.7L1803.5 274.5L1805.0 274.3L1806.5 274.1L1808.0 273.9L1809.5 273.7L1811.0 273.5L1812.5 273.3L1814.0 273.1L1815.5 272.9L1817.0 272.7L1818.5 272.5L1820.0 272.3L1821.5 272.1L1823.0 271.9L1824.5 271.7L1826.0 271.5L1827.5 271.3L1828.9 271.1L1830.4 271.0L1831.9 270.8L1833.4 270.6L1834.9 270.4L1836.4 270.2L1837.9 270.0L1839.4 269.9L1840.9 269.7L1842.4 269.5L1843.9 269.3L1845.4 269.1L1846.9 269.0L1848.4 268.8L1849.9 268.6L1851.4 268.4L1852.9 268.3L1854.4 268.1L1855.9 267.9L1857.4 267.8L1858.9 267.6L1860.4 267.4L1861.9 267.2L1863.4 267.1L1864.9 266.9L1866.4 266.7L1867.9 266.6L1869.4 266.4L1870.9 266.2L1872.4 266.1L1873.9 265.9L1875.5 265.8L1877.0 265.6L1878.5 265.4L1880.0 265.3L1881.5 265.1L1883.1 265.0L1884.6 264.8L1886.1 264.6L1887.6 264.5L1889.2 264.3L1890.7 264.2L1892.2 264.0L1893.8 263.8L1895.3 263.7L1896.8 263.5L1898.4 263.4L1899.9 263.2L1901.5 263.1L1903.0 262.9L1904.5 262.8L1906.0 262.6L1907.5 262.4L1909.1 262.3L1910.6 262.1L1912.2 262.0L1913.8 261.8L1915.5 261.7L1917.1 261.5L1918.7 261.4L1920.4 261.2L1922.1 261.1L1923.8 260.9L1925.4 260.8L1927.1 260.6L1928.9 260.5L1930.6 260.3L1932.3 260.2L1934.0 260.0L1935.8 259.8L1937.5 259.7L1939.2 259.5L1941.0 259.4L1942.7 259.2L1944.4 259.1L1946.2 258.9L1947.9 258.8L1949.6 258.6L1951.4 258.5L1953.1 258.4L1954.8 258.2L1956.5 258.1L1958.2 257.9L1959.9 257.8L1961.5 257.6L1963.2 257.5L1964.9 257.4L1966.5 257.2L1968.1 257.1L1969.7 257.0L1971.3 256.8L1972.9 256.7L1974.5 256.6L1976.0 256.4L1977.5 256.3L1979.0 256.2L1980.5 256.1L1981.9 255.9L1983.4 255.8L1984.8 255.7L1986.1 255.6L1987.5 255.5L1988.8 255.4L1990.1 255.3L1991.4 255.2L1992.6 255.1L1993.8 255.0L1995.0 254.9L1996.1 254.8L1997.2 254.7L1998.3 254.6L1999.3 254.5L2000.3 254.4L2001.2 254.4L2002.1 254.3L2003.0 254.2L2008.8 253.7L2012.5 253.4L2014.5 253.3L2015.2 253.2L2015.2 269.4L2014.5 269.5L2012.5 269.6L2008.8 269.9L2003.0 270.4L2002.1 270.5L2001.2 270.6L2000.3 270.6L1999.3 270.7L1998.3 270.8L1997.2 270.9L1996.1 271.0L1995.0 271.1L1993.8 271.2L1992.6 271.3L1991.4 271.4L1990.1 271.5L1988.8 271.6L1987.5 271.7L1986.1 271.8L1984.8 271.9L1983.4 272.0L1981.9 272.1L1980.5 272.3L1979.0 272.4L1977.5 272.5L1976.0 272.6L1974.5 272.8L1972.9 272.9L1971.3 273.0L1969.7 273.2L1968.1 273.3L1966.5 273.4L1964.9 273.6L1963.2 273.7L1961.5 273.8L1959.9 274.0L1958.2 274.1L1956.5 274.3L1954.8 274.4L1953.1 274.6L1951.4 274.7L1949.6 274.8L1947.9 275.0L1946.2 275.1L1944.4 275.3L1942.7 275.4L1941.0 275.6L1939.2 275.7L1937.5 275.9L1935.8 276.0L1934.0 276.2L1932.3 276.4L1930.6 276.5L1928.9 276.7L1927.1 276.8L1925.4 277.0L1923.8 277.1L1922.1 277.3L1920.4 277.4L1918.7 277.6L1917.1 277.7L1915.5 277.9L1913.8 278.0L1912.2 278.2L1910.6 278.3L1909.1 278.5L1907.5 278.6L1906.0 278.8L1904.5 279.0L1903.0 279.1L1901.5 279.3L1899.9 279.4L1898.4 279.6L1896.8 279.7L1895.3 279.9L1893.8 280.0L1892.2 280.2L1890.7 280.4L1889.2 280.5L1887.6 280.7L1886.1 280.8L1884.6 281.0L1883.1 281.2L1881.5 281.3L1880.0 281.5L1878.5 281.6L1877.0 281.8L1875.5 282.0L1873.9 282.1L1872.4 282.3L1870.9 282.4L1869.4 282.6L1867.9 282.8L1866.4 282.9L1864.9 283.1L1863.4 283.3L1861.9 283.4L1860.4 283.6L1858.9 283.8L1857.4 284.0L1855.9 284.1L1854.4 284.3L1852.9 284.5L1851.4 284.6L1849.9 284.8L1848.4 285.0L1846.9 285.2L1845.4 285.3L1843.9 285.5L1842.4 285.7L1840.9 285.9L1839.4 286.1L1837.9 286.2L1836.4 286.4L1834.9 286.6L1833.4 286.8L1831.9 287.0L1830.4 287.2L1828.9 287.3L1827.5 287.5L1826.0 287.7L1824.5 287.9L1823.0 288.1L1821.5 288.3L1820.0 288.5L1818.5 288.7L1817.0 288.9L1815.5 289.1L1814.0 289.3L1812.5 289.5L1811.0 289.7L1809.5 289.9L1808.0 290.1L1806.5 290.3L1805.0 290.5L1803.5 290.7L1802.0 290.9L1800.5 291.1L1799.0 291.4L1797.5 291.6L1796.0 291.8L1794.5 292.0L1793.0 292.2L1791.5 292.4L1790.0 292.7L1788.5 292.9L1787.0 293.1L1785.5 293.3L1784.1 293.5L1782.6 293.8L1781.1 294.0L1779.6 294.2L1778.1 294.4L1776.6 294.7L1775.1 294.9L1773.6 295.1L1772.1 295.4L1770.6 295.6L1769.1 295.8L1767.6 296.1L1766.2 296.3L1764.7 296.5L1763.2 296.8L1761.7 297.0L1760.2 297.3L1758.7 297.5L1757.2 297.7L1755.7 298.0L1754.2 298.2L1752.7 298.5L1751.3 298.7L1749.8 299.0L1748.3 299.2L1746.8 299.4L1745.3 299.7L1743.8 299.9L1742.3 300.2L1740.8 300.4L1739.3 300.7L1737.8 300.9L1736.4 301.2L1734.9 301.5L1733.4 301.7L1731.9 302.0L1730.4 302.2L1728.9 302.5L1727.4 302.7L1725.9 303.0L1724.4 303.3L1722.9 303.5L1721.5 303.8L1720.0 304.0L1718.5 304.3L1717.0 304.6L1715.5 304.8L1714.0 305.1L1712.5 305.4L1711.0 305.6L1709.5 305.9L1707.9 306.2L1706.4 306.5L1704.9 306.8L1703.3 307.0L1701.8 307.3L1700.2 307.6L1698.6 307.9L1697.0 308.2L1695.4 308.5L1693.9 308.8L1692.3 309.1L1690.7 309.4L1689.1 309.7L1687.5 310.0L1685.9 310.3L1684.3 310.6L1682.6 310.9L1681.0 311.2L1679.4 311.5L1677.8 311.9L1676.2 312.2L1674.6 312.5L1673.0 312.8L1671.4 313.1L1669.8 313.4L1668.2 313.7L1666.6 314.0L1665.0 314.3L1663.5 314.7L1661.9 315.0L1660.3 315.3L1658.8 315.6L1657.2 315.9L1655.7 316.2L1654.1 316.5L1652.6 316.8L1651.1 317.1L1649.6 317.4L1648.1 317.7L1646.6 318.1L1645.1 318.4L1643.7 318.6L1642.2 318.9L1640.8 319.2L1639.3 319.5L1637.9 319.8L1636.5 320.1L1635.2 320.4L1633.8 320.7L1632.4 321.0L1631.1 321.2L1629.8 321.5L1628.5 321.8L1627.2 322.1L1626.0 322.3L1624.7 322.6L1623.5 322.8L1622.3 323.1L1621.2 323.4L1620.0 323.6L1617.9 324.1L1615.9 324.5L1614.0 324.9L1612.1 325.3L1610.3 325.8L1608.5 326.2L1606.8 326.6L1605.2 327.0L1603.6 327.3L1602.0 327.7L1600.5 328.1L1599.0 328.5L1597.6 328.8L1596.2 329.2L1594.8 329.5L1593.5 329.9L1592.1 330.2L1590.8 330.6L1589.5 330.9L1588.3 331.3L1587.0 331.6L1585.7 332.0L1584.5 332.3L1583.2 332.6L1582.0 333.0L1580.7 333.3L1579.4 333.6L1578.1 334.0L1576.8 334.3L1575.5 334.7L1574.2 335.0L1572.8 335.4L1571.4 335.7L1570.0 336.1L1568.5 336.5L1567.0 336.8L1565.6 337.2L1564.1 337.6L1562.6 338.0L1561.1 338.3L1559.7 338.7L1558.2 339.1L1556.7 339.4L1555.3 339.8L1553.8 340.2L1552.4 340.5L1550.9 340.9L1549.4 341.3L1548.0 341.6L1546.5 342.0L1545.1 342.4L1543.6 342.7L1542.2 343.1L1540.7 343.5L1539.3 343.8L1537.9 344.2L1536.4 344.6L1535.0 344.9L1533.5 345.3L1532.1 345.7L1530.6 346.0L1529.2 346.4L1527.8 346.8L1526.3 347.2L1524.9 347.5L1523.4 347.9L1522.0 348.3L1520.5 348.7L1519.0 349.1L1517.6 349.5L1516.1 349.9L1514.6 350.3L1513.1 350.7L1511.7 351.0L1510.2 351.4L1508.7 351.8L1507.2 352.2L1505.8 352.6L1504.3 353.0L1502.8 353.4L1501.4 353.8L1499.9 354.2L1498.4 354.6L1497.0 355.0L1495.5 355.4L1494.0 355.8L1492.6 356.2L1491.1 356.6L1489.7 357.0L1488.2 357.4L1486.7 357.8L1485.3 358.2L1483.8 358.6L1482.3 359.1L1480.9 359.5L1479.4 359.9L1477.9 360.3L1476.5 360.7L1475.0 361.1L1473.5 361.5L1472.1 361.9L1470.6 362.3L1469.1 362.7L1467.7 363.2L1466.2 363.6L1464.7 364.0L1463.3 364.4L1461.8 364.8L1460.3 365.2L1458.9 365.6L1457.4 366.0L1456.0 366.5L1454.5 366.9L1453.0 367.3L1451.6 367.7L1450.1 368.1L1448.6 368.6L1447.2 369.0L1445.7 369.4L1444.2 369.8L1442.8 370.2L1441.3 370.7L1439.8 371.1L1438.3 371.5L1436.9 372.0L1435.4 372.4L1433.9 372.8L1432.4 373.3L1431.0 373.7L1429.5 374.2L1428.0 374.6L1426.6 375.0L1425.1 375.5L1423.7 375.9L1422.2 376.3L1420.8 376.8L1419.3 377.2L1417.8 377.7L1416.4 378.1L1414.9 378.5L1413.5 379.0L1412.0 379.4L1410.5 379.9L1409.1 380.3L1407.6 380.8L1406.1 381.2L1404.7 381.7L1403.2 382.1L1401.7 382.6L1400.3 383.1L1398.8 383.5L1397.3 384.0L1395.9 384.4L1394.4 384.9L1393.0 385.4L1391.5 385.8L1390.1 386.3L1388.6 386.8L1387.2 387.2L1385.7 387.7L1384.3 388.2L1382.9 388.6L1381.4 389.1L1380.0 389.6L1378.5 390.1L1377.1 390.6L1375.6 391.1L1374.1 391.6L1372.7 392.1L1371.2 392.6L1369.8 393.0L1368.3 393.5L1366.9 394.0L1365.4 394.5L1364.0 395.0L1362.5 395.5L1361.1 396.0L1359.6 396.5L1358.2 397.0L1356.8 397.5L1355.3 398.0L1353.9 398.6L1352.4 399.1L1351.0 399.6L1349.6 400.1L1348.2 400.6L1346.7 401.2L1345.3 401.7L1343.9 402.2L1342.5 402.8L1341.1 403.3L1339.6 403.9L1338.2 404.4L1336.8 405.0L1335.4 405.5L1334.0 406.1L1332.6 406.7L1331.2 407.3L1329.7 407.9L1328.3 408.5L1326.9 409.1L1325.4 409.7L1324.0 410.3L1322.5 410.9L1321.1 411.6L1319.6 412.2L1318.2 412.9L1316.7 413.5L1315.3 414.2L1313.9 414.8L1312.4 415.5L1311.0 416.1L1309.6 416.8L1308.2 417.4L1306.8 418.1L1305.4 418.7L1304.0 419.4L1302.6 420.0L1301.3 420.7L1300.0 421.3L1298.7 421.9L1297.4 422.5L1296.1 423.2L1294.8 423.8L1293.6 424.4L1292.4 425.0L1291.2 425.5L1290.0 426.1L1288.3 426.9L1286.7 427.7L1285.1 428.5L1283.5 429.3L1282.0 430.1L1280.5 430.9L1279.0 431.7L1277.6 432.5L1276.2 433.2L1274.8 434.0L1273.4 434.7L1272.1 435.5L1270.8 436.2L1269.5 436.9L1268.2 437.6L1267.0 438.3L1265.8 439.0L1264.6 439.6L1263.4 440.3L1262.2 440.9L1261.1 441.5L1260.0 442.1L1258.2 443.0L1256.6 443.9L1255.0 444.7L1253.6 445.4L1252.2 446.1L1250.9 446.8L1249.7 447.5L1248.4 448.1L1247.1 448.8L1245.8 449.5L1244.5 450.2L1243.0 451.0L1241.5 451.8L1240.3 452.5L1239.0 453.2L1237.8 453.9L1236.5 454.6L1235.2 455.3L1233.8 456.0L1232.5 456.8L1231.1 457.5L1229.8 458.3L1228.4 459.1L1227.0 459.9L1225.7 460.7L1224.3 461.4L1222.9 462.2L1221.6 463.0L1220.2 463.8L1218.9 464.6L1217.6 465.4L1216.2 466.2L1214.9 467.0L1213.6 467.8L1212.3 468.6L1210.9 469.4L1209.6 470.2L1208.3 471.0L1206.9 471.8L1205.6 472.6L1204.3 473.5L1203.0 474.3L1201.6 475.1L1200.3 476.0L1199.0 476.9L1197.6 477.7L1196.3 478.6L1195.0 479.4L1193.8 480.3L1192.5 481.1L1191.3 482.0L1190.0 482.8L1188.7 483.7L1187.5 484.5L1186.2 485.4L1184.9 486.3L1183.7 487.2L1182.4 488.1L1181.2 489.0L1179.9 489.9L1178.6 490.8L1177.4 491.7L1176.1 492.7L1174.9 493.6L1173.6 494.6L1172.4 495.5L1171.2 496.5L1170.0 497.4L1168.8 498.4L1167.6 499.3L1166.5 500.3L1165.3 501.3L1164.1 502.3L1162.9 503.3L1161.7 504.3L1160.5 505.3L1159.3 506.3L1158.1 507.3L1156.9 508.4L1155.8 509.4L1154.6 510.5L1153.4 511.5L1152.2 512.5L1151.0 513.6L1149.9 514.6L1148.7 515.6L1147.6 516.6L1146.4 517.6L1145.3 518.6L1144.2 519.7L1143.0 520.7L1141.9 521.7L1140.7 522.7L1139.6 523.8L1138.4 524.8L1137.3 525.9L1136.1 527.0L1135.0 528.0L1133.9 529.1L1132.8 530.2L1131.7 531.3L1130.6 532.4L1129.5 533.6ZM2023.7 261.3L2023.6 261.3L2006.8 261.3L2006.8 261.3ZM2015.2 269.4L2014.9 269.5L2014.7 269.5L2015.0 269.5L2015.0 253.3L2014.7 253.3L2014.9 253.3L2015.2 253.2Z"/>
</g>
<line x1="600.0" y1="388.0" x2="660.9" y2="693.4" stroke="#ff0000" stroke-width="3.4"/><polygon points="648.5,693.8 665.0,714.0 672.5,689.0" fill="#ff0000"/>
<line x1="963.0" y1="352.0" x2="904.6" y2="691.6" stroke="#ffc000" stroke-width="3.4"/><polygon points="892.8,687.6 901.0,712.3 917.0,691.7" fill="#ffc000"/>
<line x1="1370.0" y1="22.0" x2="1429.8" y2="330.4" stroke="#0db050" stroke-width="3.4"/><polygon points="1417.4,330.8 1433.8,351.0 1441.4,326.1" fill="#0db050"/>
<polygon points="507.5,167.5 512.5,162.5 646.3,162.5 646.3,162.5 646.3,176.3 646.3,176.3 512.5,176.3 507.5,171.3" fill="#000"/>
<polygon points="507.5,236.8 513.0,231.3 641.8,231.3 646.3,235.8 646.3,241.8 641.8,246.3 513.0,246.3 507.5,240.8" fill="#fe0000"/>
<text x="654" y="187.5" font-size="56" fill="#111">Transmittance</text>
<text x="654.4" y="256.3" font-size="56" fill="#111">Reflectance</text>
<text class="b" transform="translate(348.6 1327.8) scale(1.025 1)" font-size="101" text-anchor="end">0.0</text>
<text class="b" transform="translate(348.6 1091.0) scale(1.025 1)" font-size="101" text-anchor="end">0.2</text>
<text class="b" transform="translate(348.6 854.2) scale(1.025 1)" font-size="101" text-anchor="end">0.4</text>
<text class="b" transform="translate(348.6 617.4) scale(1.025 1)" font-size="101" text-anchor="end">0.6</text>
<text class="b" transform="translate(348.6 380.6) scale(1.025 1)" font-size="101" text-anchor="end">0.8</text>
<text class="b" transform="translate(348.6 143.8) scale(1.025 1)" font-size="101" text-anchor="end">1.0</text>
<text class="b" transform="translate(386.3 1427) scale(1.025 1)" font-size="101" text-anchor="middle">1700</text>
<text class="b" transform="translate(709.5 1427) scale(1.025 1)" font-size="101" text-anchor="middle">2160</text>
<text class="b" transform="translate(1032.6 1427) scale(1.025 1)" font-size="101" text-anchor="middle">2620</text>
<text class="b" transform="translate(1355.8 1427) scale(1.025 1)" font-size="101" text-anchor="middle">3080</text>
<text class="b" transform="translate(1678.9 1427) scale(1.025 1)" font-size="101" text-anchor="middle">3540</text>
<text class="b" transform="translate(2002.1 1427) scale(1.025 1)" font-size="101" text-anchor="middle">4000</text>
<text class="b" x="1195.2" y="1540.4" font-size="112" text-anchor="middle">Wavelength(nm)</text>
<text class="b" transform="translate(107.6 777.5) rotate(-90)" font-size="101" text-anchor="middle">Transmittance, <tspan fill="#fe0000">Reflectance</tspan></text>
</svg>
</body>
</html>
